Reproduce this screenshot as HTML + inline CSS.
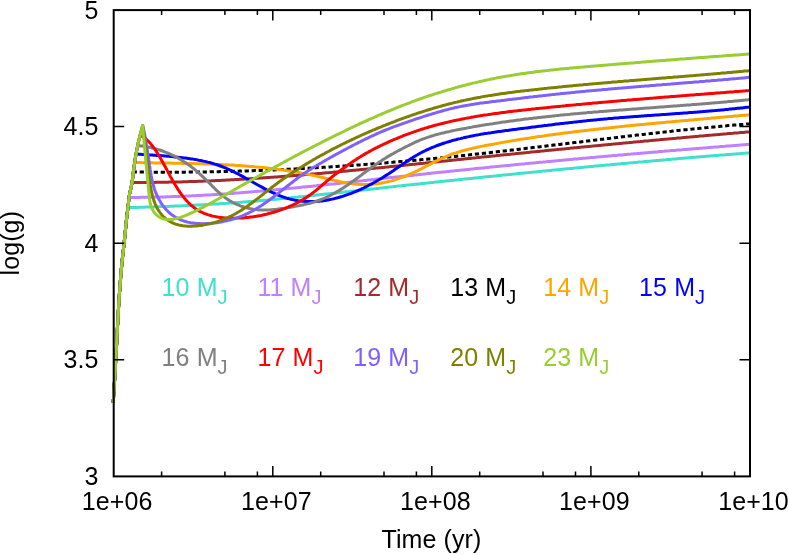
<!DOCTYPE html>
<html><head><meta charset="utf-8"><title>log(g) vs Time</title>
<style>html,body{margin:0;padding:0;background:#fff;}body{width:789px;height:555px;overflow:hidden;font-family:"Liberation Sans",sans-serif;}svg{display:block;will-change:transform;}</style>
</head><body>
<svg width="789" height="555" viewBox="0 0 789 555">
<rect width="789" height="555" fill="#fff"/>
<g fill="none" stroke-width="3" stroke-linejoin="round" stroke-linecap="butt">
<path d="M113.2 402.5 L113.3 400.5 L113.5 398.5 L113.6 396.5 L113.7 394.5 L113.8 392.5 L114.0 390.5 L114.1 388.5 L114.2 386.5 L114.3 384.5 L114.4 382.5 L114.6 380.5 L114.7 378.5 L114.8 376.5 L114.9 374.5 L115.0 372.5 L115.2 370.5 L115.3 368.5 L115.4 366.5 L115.5 364.5 L115.6 362.5 L115.7 360.5 L115.9 358.5 L116.0 356.5 L116.1 354.5 L116.2 352.5 L116.3 350.5 L116.4 348.5 L116.5 346.5 L116.6 344.5 L116.7 342.5 L116.8 340.5 L116.9 338.5 L117.0 336.5 L117.1 334.5 L117.2 332.5 L117.3 330.5 L117.4 328.5 L117.5 326.5 L117.6 324.5 L117.8 322.5 L117.9 320.5 L118.0 318.5 L118.1 316.5 L118.2 314.5 L118.3 312.5 L118.4 310.5 L118.5 308.5 L118.6 306.5 L118.8 304.5 L118.9 302.5 L119.0 300.5 L119.1 298.5 L119.3 296.5 L119.4 294.5 L119.5 292.5 L119.7 290.5 L119.8 288.5 L120.0 286.5 L120.1 284.5 L120.3 282.5 L120.4 280.5 L120.6 278.5 L120.7 276.5 L120.9 274.5 L121.1 272.5 L121.2 270.5 L121.4 268.5 L121.6 266.5 L121.8 264.5 L121.9 262.5 L122.2 260.5 L122.4 258.5 L122.6 256.5 L122.8 254.5 L123.1 252.5 L123.3 250.5 L123.5 248.5 L123.7 246.5 L124.0 244.5 L124.2 242.5 L124.4 240.5 L124.6 238.5 L124.8 236.5 L125.0 234.5 L125.2 232.5 L125.4 230.5 L125.6 228.5 L125.8 226.5 L125.9 224.5 L126.2 222.5 L126.4 220.5 L126.6 218.5 L126.8 216.5 L127.1 214.5 L127.3 212.5 L127.6 210.5 L127.8 208.5 L127.9 207.6 L129.4 207.6 L130.9 207.5 L132.4 207.5 L133.9 207.5 L135.4 207.4 L136.9 207.4 L138.4 207.3 L139.9 207.3 L141.4 207.2 L142.9 207.2 L144.4 207.2 L145.9 207.1 L147.4 207.1 L148.9 207.0 L150.4 207.0 L151.9 206.9 L153.4 206.9 L154.9 206.8 L156.4 206.8 L157.9 206.7 L159.4 206.7 L160.9 206.6 L162.4 206.6 L163.9 206.5 L165.4 206.5 L166.9 206.4 L168.4 206.4 L169.9 206.3 L171.4 206.2 L172.9 206.2 L174.4 206.1 L175.9 206.0 L177.4 206.0 L178.9 205.9 L180.4 205.9 L181.9 205.8 L183.4 205.7 L184.9 205.7 L186.4 205.6 L187.9 205.5 L189.4 205.4 L190.9 205.4 L192.4 205.3 L193.9 205.2 L195.4 205.1 L196.9 205.1 L198.4 205.0 L199.9 204.9 L201.4 204.8 L202.9 204.8 L204.4 204.7 L205.9 204.6 L207.4 204.5 L208.9 204.4 L210.4 204.3 L211.9 204.2 L213.4 204.1 L214.9 204.1 L216.4 204.0 L217.9 203.9 L219.4 203.8 L220.9 203.7 L222.3 203.6 L223.8 203.5 L225.3 203.4 L226.8 203.3 L228.3 203.2 L229.8 203.1 L231.3 203.0 L232.8 202.9 L234.3 202.8 L235.8 202.6 L237.3 202.5 L238.8 202.4 L240.3 202.3 L241.8 202.2 L243.3 202.1 L244.8 202.0 L246.3 201.8 L247.8 201.7 L249.3 201.6 L250.8 201.5 L252.3 201.4 L253.7 201.2 L255.2 201.1 L256.7 201.0 L258.2 200.9 L259.7 200.7 L261.2 200.6 L262.7 200.5 L264.2 200.3 L265.7 200.2 L267.2 200.1 L268.7 199.9 L270.2 199.8 L271.7 199.6 L273.2 199.5 L274.7 199.4 L276.1 199.2 L277.6 199.1 L279.1 198.9 L280.6 198.8 L282.1 198.6 L283.6 198.5 L285.1 198.4 L286.6 198.2 L288.1 198.1 L289.6 197.9 L291.1 197.8 L292.6 197.6 L294.1 197.5 L295.5 197.3 L297.0 197.2 L298.5 197.0 L300.0 196.8 L301.5 196.7 L303.0 196.5 L304.5 196.4 L306.0 196.2 L307.5 196.1 L309.0 195.9 L310.5 195.8 L312.0 195.6 L313.5 195.4 L314.9 195.3 L316.4 195.1 L317.9 195.0 L319.4 194.8 L320.9 194.6 L322.4 194.5 L323.9 194.3 L325.4 194.1 L326.9 194.0 L328.4 193.8 L329.9 193.7 L331.3 193.5 L332.8 193.3 L334.3 193.2 L335.8 193.0 L337.3 192.8 L338.8 192.7 L340.3 192.5 L341.8 192.3 L343.3 192.2 L344.8 192.0 L346.3 191.8 L347.7 191.7 L349.2 191.5 L350.7 191.3 L352.2 191.2 L353.7 191.0 L355.2 190.9 L356.7 190.7 L358.2 190.5 L359.7 190.4 L361.2 190.2 L362.7 190.0 L364.1 189.9 L365.6 189.7 L367.1 189.5 L368.6 189.4 L370.1 189.2 L371.6 189.0 L373.1 188.9 L374.6 188.7 L376.1 188.6 L377.6 188.4 L379.1 188.2 L380.5 188.1 L382.0 187.9 L383.5 187.7 L385.0 187.6 L386.5 187.4 L388.0 187.2 L389.5 187.1 L391.0 186.9 L392.5 186.8 L394.0 186.6 L395.5 186.4 L397.0 186.3 L398.4 186.1 L399.9 185.9 L401.4 185.8 L402.9 185.6 L404.4 185.5 L405.9 185.3 L407.4 185.1 L408.9 185.0 L410.4 184.8 L411.9 184.7 L413.4 184.5 L414.8 184.3 L416.3 184.2 L417.8 184.0 L419.3 183.9 L420.8 183.7 L422.3 183.5 L423.8 183.4 L425.3 183.2 L426.8 183.1 L428.3 182.9 L429.8 182.7 L431.3 182.6 L432.7 182.4 L434.2 182.3 L435.7 182.1 L437.2 181.9 L438.7 181.8 L440.2 181.6 L441.7 181.5 L443.2 181.3 L444.7 181.2 L446.2 181.0 L447.7 180.8 L449.2 180.7 L450.6 180.5 L452.1 180.4 L453.6 180.2 L455.1 180.1 L456.6 179.9 L458.1 179.8 L459.6 179.6 L461.1 179.4 L462.6 179.3 L464.1 179.1 L465.6 179.0 L467.1 178.8 L468.5 178.7 L470.0 178.5 L471.5 178.4 L473.0 178.2 L474.5 178.0 L476.0 177.9 L477.5 177.7 L479.0 177.6 L480.5 177.4 L482.0 177.3 L483.5 177.1 L485.0 177.0 L486.5 176.8 L487.9 176.7 L489.4 176.5 L490.9 176.4 L492.4 176.2 L493.9 176.1 L495.4 175.9 L496.9 175.7 L498.4 175.6 L499.9 175.4 L501.4 175.3 L502.9 175.1 L504.4 175.0 L505.9 174.8 L507.3 174.7 L508.8 174.5 L510.3 174.4 L511.8 174.2 L513.3 174.1 L514.8 173.9 L516.3 173.8 L517.8 173.6 L519.3 173.5 L520.8 173.3 L522.3 173.2 L523.8 173.0 L525.3 172.9 L526.7 172.7 L528.2 172.6 L529.7 172.4 L531.2 172.3 L532.7 172.2 L534.2 172.0 L535.7 171.9 L537.2 171.7 L538.7 171.6 L540.2 171.4 L541.7 171.3 L543.2 171.1 L544.7 171.0 L546.2 170.8 L547.6 170.7 L549.1 170.5 L550.6 170.4 L552.1 170.2 L553.6 170.1 L555.1 170.0 L556.6 169.8 L558.1 169.7 L559.6 169.5 L561.1 169.4 L562.6 169.2 L564.1 169.1 L565.6 168.9 L567.1 168.8 L568.5 168.7 L570.0 168.5 L571.5 168.4 L573.0 168.2 L574.5 168.1 L576.0 167.9 L577.5 167.8 L579.0 167.7 L580.5 167.5 L582.0 167.4 L583.5 167.2 L585.0 167.1 L586.5 167.0 L588.0 166.8 L589.4 166.7 L590.9 166.5 L592.4 166.4 L593.9 166.2 L595.4 166.1 L596.9 166.0 L598.4 165.8 L599.9 165.7 L601.4 165.6 L602.9 165.4 L604.4 165.3 L605.9 165.1 L607.4 165.0 L608.9 164.9 L610.4 164.7 L611.9 164.6 L613.3 164.4 L614.8 164.3 L616.3 164.2 L617.8 164.0 L619.3 163.9 L620.8 163.8 L622.3 163.6 L623.8 163.5 L625.3 163.4 L626.8 163.2 L628.3 163.1 L629.8 162.9 L631.3 162.8 L632.8 162.7 L634.3 162.5 L635.8 162.4 L637.2 162.3 L638.7 162.1 L640.2 162.0 L641.7 161.9 L643.2 161.7 L644.7 161.6 L646.2 161.5 L647.7 161.3 L649.2 161.2 L650.7 161.1 L652.2 160.9 L653.7 160.8 L655.2 160.7 L656.7 160.5 L658.2 160.4 L659.7 160.3 L661.2 160.2 L662.6 160.0 L664.1 159.9 L665.6 159.8 L667.1 159.6 L668.6 159.5 L670.1 159.4 L671.6 159.2 L673.1 159.1 L674.6 159.0 L676.1 158.9 L677.6 158.7 L679.1 158.6 L680.6 158.5 L682.1 158.3 L683.6 158.2 L685.1 158.1 L686.6 158.0 L688.1 157.8 L689.5 157.7 L691.0 157.6 L692.5 157.5 L694.0 157.3 L695.5 157.2 L697.0 157.1 L698.5 157.0 L700.0 156.8 L701.5 156.7 L703.0 156.6 L704.5 156.5 L706.0 156.3 L707.5 156.2 L709.0 156.1 L710.5 156.0 L712.0 155.8 L713.5 155.7 L715.0 155.6 L716.5 155.5 L717.9 155.4 L719.4 155.2 L720.9 155.1 L722.4 155.0 L723.9 154.9 L725.4 154.8 L726.9 154.6 L728.4 154.5 L729.9 154.4 L731.4 154.3 L732.9 154.2 L734.4 154.0 L735.9 153.9 L737.4 153.8 L738.9 153.7 L740.4 153.6 L741.9 153.4 L743.4 153.3 L744.9 153.2 L746.4 153.1 L747.9 153.0 L749.4 152.9 L750.0 152.8" stroke="#40e0d0"/>
<path d="M113.2 402.5 L113.3 400.5 L113.5 398.5 L113.6 396.5 L113.7 394.5 L113.8 392.5 L114.0 390.5 L114.1 388.5 L114.2 386.5 L114.3 384.5 L114.4 382.5 L114.6 380.5 L114.7 378.5 L114.8 376.5 L114.9 374.5 L115.0 372.5 L115.2 370.5 L115.3 368.5 L115.4 366.5 L115.5 364.5 L115.6 362.5 L115.7 360.5 L115.9 358.5 L116.0 356.5 L116.1 354.5 L116.2 352.5 L116.3 350.5 L116.4 348.5 L116.5 346.5 L116.6 344.5 L116.7 342.5 L116.8 340.5 L116.9 338.5 L117.0 336.5 L117.1 334.5 L117.2 332.5 L117.3 330.5 L117.4 328.5 L117.5 326.5 L117.6 324.5 L117.8 322.5 L117.9 320.5 L118.0 318.5 L118.1 316.5 L118.2 314.5 L118.3 312.5 L118.4 310.5 L118.5 308.5 L118.6 306.5 L118.8 304.5 L118.9 302.5 L119.0 300.5 L119.1 298.5 L119.3 296.5 L119.4 294.5 L119.5 292.5 L119.7 290.5 L119.8 288.5 L120.0 286.5 L120.1 284.5 L120.3 282.5 L120.4 280.5 L120.6 278.5 L120.7 276.5 L120.9 274.5 L121.1 272.5 L121.2 270.5 L121.4 268.5 L121.6 266.5 L121.8 264.5 L121.9 262.5 L122.2 260.5 L122.4 258.5 L122.6 256.5 L122.8 254.5 L123.1 252.5 L123.3 250.5 L123.5 248.5 L123.7 246.5 L124.0 244.5 L124.2 242.5 L124.4 240.5 L124.6 238.5 L124.8 236.5 L125.0 234.5 L125.2 232.5 L125.4 230.5 L125.6 228.5 L125.8 226.5 L125.9 224.5 L126.2 222.5 L126.4 220.5 L126.6 218.5 L126.8 216.5 L127.1 214.5 L127.3 212.5 L127.6 210.5 L127.8 208.5 L128.0 206.5 L128.3 204.5 L128.5 202.5 L128.7 200.5 L129.0 198.5 L129.1 197.4 L130.6 197.4 L132.1 197.4 L133.6 197.4 L135.1 197.4 L136.6 197.4 L138.1 197.4 L139.6 197.4 L141.1 197.3 L142.6 197.3 L144.1 197.3 L145.6 197.3 L147.1 197.3 L148.6 197.3 L150.1 197.2 L151.6 197.2 L153.1 197.2 L154.6 197.1 L156.1 197.1 L157.6 197.1 L159.1 197.0 L160.6 197.0 L162.1 197.0 L163.6 196.9 L165.1 196.9 L166.6 196.8 L168.1 196.8 L169.6 196.7 L171.1 196.7 L172.6 196.6 L174.1 196.6 L175.6 196.5 L177.1 196.5 L178.6 196.4 L180.1 196.4 L181.6 196.3 L183.1 196.2 L184.6 196.2 L186.1 196.1 L187.6 196.0 L189.1 196.0 L190.6 195.9 L192.1 195.8 L193.6 195.8 L195.1 195.7 L196.6 195.6 L198.1 195.5 L199.6 195.5 L201.1 195.4 L202.6 195.3 L204.1 195.2 L205.6 195.1 L207.1 195.0 L208.6 194.9 L210.1 194.9 L211.6 194.8 L213.1 194.7 L214.6 194.6 L216.1 194.5 L217.6 194.4 L219.1 194.3 L220.6 194.2 L222.1 194.1 L223.6 194.0 L225.1 193.9 L226.6 193.8 L228.0 193.7 L229.5 193.6 L231.0 193.5 L232.5 193.4 L234.0 193.3 L235.5 193.1 L237.0 193.0 L238.5 192.9 L240.0 192.8 L241.5 192.7 L243.0 192.6 L244.5 192.5 L246.0 192.3 L247.5 192.2 L249.0 192.1 L250.5 192.0 L252.0 191.8 L253.5 191.7 L255.0 191.6 L256.4 191.5 L257.9 191.3 L259.4 191.2 L260.9 191.1 L262.4 191.0 L263.9 190.8 L265.4 190.7 L266.9 190.6 L268.4 190.4 L269.9 190.3 L271.4 190.2 L272.9 190.0 L274.4 189.9 L275.9 189.8 L277.4 189.6 L278.8 189.5 L280.3 189.3 L281.8 189.2 L283.3 189.1 L284.8 188.9 L286.3 188.8 L287.8 188.6 L289.3 188.5 L290.8 188.3 L292.3 188.2 L293.8 188.0 L295.3 187.9 L296.8 187.7 L298.3 187.6 L299.7 187.4 L301.2 187.3 L302.7 187.1 L304.2 187.0 L305.7 186.8 L307.2 186.7 L308.7 186.5 L310.2 186.4 L311.7 186.2 L313.2 186.1 L314.7 185.9 L316.2 185.8 L317.6 185.6 L319.1 185.5 L320.6 185.3 L322.1 185.1 L323.6 185.0 L325.1 184.8 L326.6 184.7 L328.1 184.5 L329.6 184.3 L331.1 184.2 L332.6 184.0 L334.1 183.9 L335.5 183.7 L337.0 183.5 L338.5 183.4 L340.0 183.2 L341.5 183.1 L343.0 182.9 L344.5 182.7 L346.0 182.6 L347.5 182.4 L349.0 182.2 L350.5 182.1 L351.9 181.9 L353.4 181.8 L354.9 181.6 L356.4 181.4 L357.9 181.3 L359.4 181.1 L360.9 180.9 L362.4 180.8 L363.9 180.6 L365.4 180.4 L366.9 180.3 L368.4 180.1 L369.8 179.9 L371.3 179.8 L372.8 179.6 L374.3 179.5 L375.8 179.3 L377.3 179.1 L378.8 179.0 L380.3 178.8 L381.8 178.6 L383.3 178.5 L384.8 178.3 L386.2 178.1 L387.7 178.0 L389.2 177.8 L390.7 177.6 L392.2 177.5 L393.7 177.3 L395.2 177.1 L396.7 177.0 L398.2 176.8 L399.7 176.7 L401.2 176.5 L402.6 176.3 L404.1 176.2 L405.6 176.0 L407.1 175.8 L408.6 175.7 L410.1 175.5 L411.6 175.4 L413.1 175.2 L414.6 175.0 L416.1 174.9 L417.6 174.7 L419.1 174.6 L420.5 174.4 L422.0 174.2 L423.5 174.1 L425.0 173.9 L426.5 173.8 L428.0 173.6 L429.5 173.4 L431.0 173.3 L432.5 173.1 L434.0 173.0 L435.5 172.8 L437.0 172.6 L438.4 172.5 L439.9 172.3 L441.4 172.2 L442.9 172.0 L444.4 171.9 L445.9 171.7 L447.4 171.6 L448.9 171.4 L450.4 171.2 L451.9 171.1 L453.4 170.9 L454.9 170.8 L456.3 170.6 L457.8 170.5 L459.3 170.3 L460.8 170.2 L462.3 170.0 L463.8 169.9 L465.3 169.7 L466.8 169.5 L468.3 169.4 L469.8 169.2 L471.3 169.1 L472.8 168.9 L474.3 168.8 L475.7 168.6 L477.2 168.5 L478.7 168.3 L480.2 168.2 L481.7 168.0 L483.2 167.9 L484.7 167.7 L486.2 167.6 L487.7 167.4 L489.2 167.3 L490.7 167.1 L492.2 167.0 L493.7 166.8 L495.1 166.7 L496.6 166.5 L498.1 166.4 L499.6 166.2 L501.1 166.1 L502.6 166.0 L504.1 165.8 L505.6 165.7 L507.1 165.5 L508.6 165.4 L510.1 165.2 L511.6 165.1 L513.1 164.9 L514.6 164.8 L516.0 164.6 L517.5 164.5 L519.0 164.3 L520.5 164.2 L522.0 164.1 L523.5 163.9 L525.0 163.8 L526.5 163.6 L528.0 163.5 L529.5 163.3 L531.0 163.2 L532.5 163.1 L534.0 162.9 L535.5 162.8 L536.9 162.6 L538.4 162.5 L539.9 162.3 L541.4 162.2 L542.9 162.1 L544.4 161.9 L545.9 161.8 L547.4 161.6 L548.9 161.5 L550.4 161.4 L551.9 161.2 L553.4 161.1 L554.9 160.9 L556.4 160.8 L557.9 160.7 L559.3 160.5 L560.8 160.4 L562.3 160.2 L563.8 160.1 L565.3 160.0 L566.8 159.8 L568.3 159.7 L569.8 159.6 L571.3 159.4 L572.8 159.3 L574.3 159.1 L575.8 159.0 L577.3 158.9 L578.8 158.7 L580.3 158.6 L581.7 158.5 L583.2 158.3 L584.7 158.2 L586.2 158.1 L587.7 157.9 L589.2 157.8 L590.7 157.6 L592.2 157.5 L593.7 157.4 L595.2 157.2 L596.7 157.1 L598.2 157.0 L599.7 156.8 L601.2 156.7 L602.7 156.6 L604.2 156.4 L605.6 156.3 L607.1 156.2 L608.6 156.0 L610.1 155.9 L611.6 155.8 L613.1 155.6 L614.6 155.5 L616.1 155.4 L617.6 155.3 L619.1 155.1 L620.6 155.0 L622.1 154.9 L623.6 154.7 L625.1 154.6 L626.6 154.5 L628.1 154.3 L629.6 154.2 L631.1 154.1 L632.5 153.9 L634.0 153.8 L635.5 153.7 L637.0 153.6 L638.5 153.4 L640.0 153.3 L641.5 153.2 L643.0 153.0 L644.5 152.9 L646.0 152.8 L647.5 152.7 L649.0 152.5 L650.5 152.4 L652.0 152.3 L653.5 152.2 L655.0 152.0 L656.5 151.9 L658.0 151.8 L659.4 151.6 L660.9 151.5 L662.4 151.4 L663.9 151.3 L665.4 151.1 L666.9 151.0 L668.4 150.9 L669.9 150.8 L671.4 150.6 L672.9 150.5 L674.4 150.4 L675.9 150.3 L677.4 150.1 L678.9 150.0 L680.4 149.9 L681.9 149.8 L683.4 149.6 L684.9 149.5 L686.4 149.4 L687.8 149.3 L689.3 149.2 L690.8 149.0 L692.3 148.9 L693.8 148.8 L695.3 148.7 L696.8 148.5 L698.3 148.4 L699.8 148.3 L701.3 148.2 L702.8 148.1 L704.3 147.9 L705.8 147.8 L707.3 147.7 L708.8 147.6 L710.3 147.5 L711.8 147.3 L713.3 147.2 L714.8 147.1 L716.3 147.0 L717.8 146.9 L719.2 146.7 L720.7 146.6 L722.2 146.5 L723.7 146.4 L725.2 146.3 L726.7 146.1 L728.2 146.0 L729.7 145.9 L731.2 145.8 L732.7 145.7 L734.2 145.5 L735.7 145.4 L737.2 145.3 L738.7 145.2 L740.2 145.1 L741.7 145.0 L743.2 144.8 L744.7 144.7 L746.2 144.6 L747.7 144.5 L749.2 144.4 L750.0 144.3" stroke="#c080ff"/>
<path d="M113.2 402.5 L113.3 400.5 L113.5 398.5 L113.6 396.5 L113.7 394.5 L113.8 392.5 L114.0 390.5 L114.1 388.5 L114.2 386.5 L114.3 384.5 L114.4 382.5 L114.6 380.5 L114.7 378.5 L114.8 376.5 L114.9 374.5 L115.0 372.5 L115.2 370.5 L115.3 368.5 L115.4 366.5 L115.5 364.5 L115.6 362.5 L115.7 360.5 L115.9 358.5 L116.0 356.5 L116.1 354.5 L116.2 352.5 L116.3 350.5 L116.4 348.5 L116.5 346.5 L116.6 344.5 L116.7 342.5 L116.8 340.5 L116.9 338.5 L117.0 336.5 L117.1 334.5 L117.2 332.5 L117.3 330.5 L117.4 328.5 L117.5 326.5 L117.6 324.5 L117.8 322.5 L117.9 320.5 L118.0 318.5 L118.1 316.5 L118.2 314.5 L118.3 312.5 L118.4 310.5 L118.5 308.5 L118.6 306.5 L118.8 304.5 L118.9 302.5 L119.0 300.5 L119.1 298.5 L119.3 296.5 L119.4 294.5 L119.5 292.5 L119.7 290.5 L119.8 288.5 L120.0 286.5 L120.1 284.5 L120.3 282.5 L120.4 280.5 L120.6 278.5 L120.7 276.5 L120.9 274.5 L121.1 272.5 L121.2 270.5 L121.4 268.5 L121.6 266.5 L121.8 264.5 L121.9 262.5 L122.2 260.5 L122.4 258.5 L122.6 256.5 L122.8 254.5 L123.1 252.5 L123.3 250.5 L123.5 248.5 L123.7 246.5 L124.0 244.5 L124.2 242.5 L124.4 240.5 L124.6 238.5 L124.8 236.5 L125.0 234.5 L125.2 232.5 L125.4 230.5 L125.6 228.5 L125.8 226.5 L125.9 224.5 L126.2 222.5 L126.4 220.5 L126.6 218.5 L126.8 216.5 L127.1 214.5 L127.3 212.5 L127.6 210.5 L127.8 208.5 L128.0 206.5 L128.3 204.5 L128.5 202.5 L128.7 200.5 L129.0 198.5 L129.2 196.5 L129.5 194.5 L129.9 192.5 L130.4 190.5 L130.8 188.5 L131.3 186.5 L131.7 184.5 L132.0 182.5 L132.0 182.4 L133.5 182.4 L135.1 182.4 L136.6 182.4 L138.1 182.4 L139.6 182.4 L141.1 182.4 L142.6 182.4 L144.1 182.4 L145.6 182.4 L147.1 182.4 L148.6 182.4 L150.1 182.4 L151.6 182.4 L153.1 182.4 L154.6 182.4 L156.1 182.3 L157.6 182.3 L159.1 182.3 L160.6 182.3 L162.1 182.3 L163.6 182.2 L165.1 182.2 L166.6 182.2 L168.1 182.2 L169.6 182.1 L171.1 182.1 L172.6 182.1 L174.1 182.0 L175.6 182.0 L177.1 182.0 L178.6 181.9 L180.1 181.9 L181.6 181.9 L183.1 181.8 L184.6 181.8 L186.1 181.7 L187.6 181.7 L189.1 181.6 L190.6 181.6 L192.1 181.5 L193.6 181.5 L195.1 181.4 L196.6 181.4 L198.1 181.3 L199.6 181.3 L201.1 181.2 L202.6 181.2 L204.1 181.1 L205.6 181.0 L207.1 181.0 L208.6 180.9 L210.1 180.9 L211.6 180.8 L213.1 180.7 L214.6 180.7 L216.1 180.6 L217.6 180.5 L219.1 180.5 L220.6 180.4 L222.1 180.3 L223.6 180.2 L225.1 180.2 L226.6 180.1 L228.0 180.0 L229.5 179.9 L231.0 179.8 L232.5 179.8 L234.0 179.7 L235.5 179.6 L237.0 179.5 L238.5 179.4 L240.0 179.3 L241.5 179.3 L243.0 179.2 L244.5 179.1 L246.0 179.0 L247.5 178.9 L249.0 178.8 L250.5 178.7 L252.0 178.6 L253.5 178.5 L255.0 178.4 L256.5 178.3 L258.0 178.2 L259.5 178.1 L261.0 178.0 L262.5 177.9 L264.0 177.8 L265.5 177.7 L267.0 177.6 L268.5 177.5 L269.9 177.4 L271.4 177.3 L272.9 177.2 L274.4 177.1 L275.9 177.0 L277.4 176.9 L278.9 176.8 L280.4 176.7 L281.9 176.5 L283.4 176.4 L284.9 176.3 L286.4 176.2 L287.9 176.1 L289.4 176.0 L290.9 175.8 L292.4 175.7 L293.9 175.6 L295.4 175.5 L296.9 175.4 L298.4 175.3 L299.8 175.1 L301.3 175.0 L302.8 174.9 L304.3 174.8 L305.8 174.6 L307.3 174.5 L308.8 174.4 L310.3 174.3 L311.8 174.1 L313.3 174.0 L314.8 173.9 L316.3 173.7 L317.8 173.6 L319.3 173.5 L320.8 173.4 L322.3 173.2 L323.8 173.1 L325.2 173.0 L326.7 172.8 L328.2 172.7 L329.7 172.6 L331.2 172.4 L332.7 172.3 L334.2 172.1 L335.7 172.0 L337.2 171.9 L338.7 171.7 L340.2 171.6 L341.7 171.5 L343.2 171.3 L344.7 171.2 L346.2 171.0 L347.6 170.9 L349.1 170.7 L350.6 170.6 L352.1 170.5 L353.6 170.3 L355.1 170.2 L356.6 170.0 L358.1 169.9 L359.6 169.7 L361.1 169.6 L362.6 169.5 L364.1 169.3 L365.6 169.2 L367.1 169.0 L368.6 168.9 L370.0 168.7 L371.5 168.6 L373.0 168.4 L374.5 168.3 L376.0 168.1 L377.5 168.0 L379.0 167.8 L380.5 167.7 L382.0 167.5 L383.5 167.4 L385.0 167.2 L386.5 167.1 L388.0 166.9 L389.4 166.8 L390.9 166.6 L392.4 166.5 L393.9 166.3 L395.4 166.2 L396.9 166.0 L398.4 165.9 L399.9 165.7 L401.4 165.5 L402.9 165.4 L404.4 165.2 L405.9 165.1 L407.4 164.9 L408.8 164.8 L410.3 164.6 L411.8 164.5 L413.3 164.3 L414.8 164.2 L416.3 164.0 L417.8 163.8 L419.3 163.7 L420.8 163.5 L422.3 163.4 L423.8 163.2 L425.3 163.1 L426.8 162.9 L428.2 162.7 L429.7 162.6 L431.2 162.4 L432.7 162.3 L434.2 162.1 L435.7 162.0 L437.2 161.8 L438.7 161.7 L440.2 161.5 L441.7 161.3 L443.2 161.2 L444.7 161.0 L446.1 160.9 L447.6 160.7 L449.1 160.6 L450.6 160.4 L452.1 160.2 L453.6 160.1 L455.1 159.9 L456.6 159.8 L458.1 159.6 L459.6 159.5 L461.1 159.3 L462.6 159.2 L464.1 159.0 L465.5 158.8 L467.0 158.7 L468.5 158.5 L470.0 158.4 L471.5 158.2 L473.0 158.1 L474.5 157.9 L476.0 157.8 L477.5 157.6 L479.0 157.5 L480.5 157.3 L482.0 157.1 L483.5 157.0 L484.9 156.8 L486.4 156.7 L487.9 156.5 L489.4 156.4 L490.9 156.2 L492.4 156.1 L493.9 155.9 L495.4 155.8 L496.9 155.6 L498.4 155.5 L499.9 155.3 L501.4 155.1 L502.9 155.0 L504.3 154.8 L505.8 154.7 L507.3 154.5 L508.8 154.4 L510.3 154.2 L511.8 154.1 L513.3 153.9 L514.8 153.8 L516.3 153.6 L517.8 153.5 L519.3 153.3 L520.8 153.2 L522.3 153.0 L523.7 152.9 L525.2 152.7 L526.7 152.6 L528.2 152.4 L529.7 152.3 L531.2 152.1 L532.7 152.0 L534.2 151.8 L535.7 151.7 L537.2 151.5 L538.7 151.4 L540.2 151.2 L541.7 151.1 L543.1 150.9 L544.6 150.8 L546.1 150.6 L547.6 150.5 L549.1 150.3 L550.6 150.2 L552.1 150.0 L553.6 149.9 L555.1 149.7 L556.6 149.6 L558.1 149.4 L559.6 149.3 L561.1 149.2 L562.5 149.0 L564.0 148.9 L565.5 148.7 L567.0 148.6 L568.5 148.4 L570.0 148.3 L571.5 148.1 L573.0 148.0 L574.5 147.8 L576.0 147.7 L577.5 147.5 L579.0 147.4 L580.5 147.2 L582.0 147.1 L583.4 147.0 L584.9 146.8 L586.4 146.7 L587.9 146.5 L589.4 146.4 L590.9 146.2 L592.4 146.1 L593.9 145.9 L595.4 145.8 L596.9 145.7 L598.4 145.5 L599.9 145.4 L601.4 145.2 L602.9 145.1 L604.3 144.9 L605.8 144.8 L607.3 144.7 L608.8 144.5 L610.3 144.4 L611.8 144.2 L613.3 144.1 L614.8 143.9 L616.3 143.8 L617.8 143.7 L619.3 143.5 L620.8 143.4 L622.3 143.2 L623.8 143.1 L625.2 143.0 L626.7 142.8 L628.2 142.7 L629.7 142.5 L631.2 142.4 L632.7 142.3 L634.2 142.1 L635.7 142.0 L637.2 141.8 L638.7 141.7 L640.2 141.6 L641.7 141.4 L643.2 141.3 L644.7 141.1 L646.2 141.0 L647.6 140.9 L649.1 140.7 L650.6 140.6 L652.1 140.4 L653.6 140.3 L655.1 140.2 L656.6 140.0 L658.1 139.9 L659.6 139.8 L661.1 139.6 L662.6 139.5 L664.1 139.3 L665.6 139.2 L667.1 139.1 L668.6 138.9 L670.1 138.8 L671.5 138.7 L673.0 138.5 L674.5 138.4 L676.0 138.3 L677.5 138.1 L679.0 138.0 L680.5 137.9 L682.0 137.7 L683.5 137.6 L685.0 137.5 L686.5 137.3 L688.0 137.2 L689.5 137.1 L691.0 136.9 L692.5 136.8 L694.0 136.7 L695.5 136.5 L696.9 136.4 L698.4 136.3 L699.9 136.1 L701.4 136.0 L702.9 135.9 L704.4 135.7 L705.9 135.6 L707.4 135.5 L708.9 135.3 L710.4 135.2 L711.9 135.1 L713.4 134.9 L714.9 134.8 L716.4 134.7 L717.9 134.6 L719.4 134.4 L720.9 134.3 L722.3 134.2 L723.8 134.0 L725.3 133.9 L726.8 133.8 L728.3 133.6 L729.8 133.5 L731.3 133.4 L732.8 133.3 L734.3 133.1 L735.8 133.0 L737.3 132.9 L738.8 132.8 L740.3 132.6 L741.8 132.5 L743.3 132.4 L744.8 132.2 L746.3 132.1 L747.8 132.0 L749.3 131.9 L750.0 131.8" stroke="#a52a2a"/>
<path d="M113.2 402.5 L113.3 400.5 L113.5 398.5 L113.6 396.5 L113.7 394.5 L113.8 392.5 L114.0 390.5 L114.1 388.5 L114.2 386.5 L114.3 384.5 L114.4 382.5 L114.6 380.5 L114.7 378.5 L114.8 376.5 L114.9 374.5 L115.0 372.5 L115.2 370.5 L115.3 368.5 L115.4 366.5 L115.5 364.5 L115.6 362.5 L115.7 360.5 L115.9 358.5 L116.0 356.5 L116.1 354.5 L116.2 352.5 L116.3 350.5 L116.4 348.5 L116.5 346.5 L116.6 344.5 L116.7 342.5 L116.8 340.5 L116.9 338.5 L117.0 336.5 L117.1 334.5 L117.2 332.5 L117.3 330.5 L117.4 328.5 L117.5 326.5 L117.6 324.5 L117.8 322.5 L117.9 320.5 L118.0 318.5 L118.1 316.5 L118.2 314.5 L118.3 312.5 L118.4 310.5 L118.5 308.5 L118.6 306.5 L118.8 304.5 L118.9 302.5 L119.0 300.5 L119.1 298.5 L119.3 296.5 L119.4 294.5 L119.5 292.5 L119.7 290.5 L119.8 288.5 L120.0 286.5 L120.1 284.5 L120.3 282.5 L120.4 280.5 L120.6 278.5 L120.7 276.5 L120.9 274.5 L121.1 272.5 L121.2 270.5 L121.4 268.5 L121.6 266.5 L121.8 264.5 L121.9 262.5 L122.2 260.5 L122.4 258.5 L122.6 256.5 L122.8 254.5 L123.1 252.5 L123.3 250.5 L123.5 248.5 L123.7 246.5 L124.0 244.5 L124.2 242.5 L124.4 240.5 L124.6 238.5 L124.8 236.5 L125.0 234.5 L125.2 232.5 L125.4 230.5 L125.6 228.5 L125.8 226.5 L125.9 224.5 L126.2 222.5 L126.4 220.5 L126.6 218.5 L126.8 216.5 L127.1 214.5 L127.3 212.5 L127.6 210.5 L127.8 208.5 L128.0 206.5 L128.3 204.5 L128.5 202.5 L128.7 200.5 L129.0 198.5 L129.2 196.5 L129.5 194.5 L129.9 192.5 L130.4 190.5 L130.8 188.5 L131.3 186.5 L131.7 184.5 L132.0 182.5 L132.3 180.5 L132.6 178.5 L132.8 176.5 L133.0 174.5 L133.3 172.5 L133.3 172.0 L134.8 172.0 L136.3 172.0 L137.8 172.1 L139.3 172.1 L140.8 172.1 L142.3 172.1 L143.8 172.1 L145.3 172.1 L146.8 172.2 L148.3 172.2 L149.8 172.2 L151.3 172.2 L152.9 172.2 L154.4 172.2 L155.9 172.2 L157.4 172.2 L158.9 172.2 L160.4 172.2 L161.9 172.2 L163.4 172.2 L164.9 172.2 L166.4 172.2 L167.9 172.2 L169.4 172.2 L170.9 172.2 L172.4 172.2 L173.9 172.2 L175.4 172.2 L176.9 172.2 L178.4 172.2 L179.9 172.2 L181.4 172.2 L182.9 172.2 L184.4 172.2 L185.9 172.1 L187.4 172.1 L188.9 172.1 L190.4 172.1 L191.9 172.1 L193.4 172.1 L194.9 172.1 L196.4 172.0 L197.9 172.0 L199.4 172.0 L200.9 172.0 L202.4 172.0 L203.9 171.9 L205.4 171.9 L206.9 171.9 L208.4 171.9 L209.9 171.8 L211.4 171.8 L212.9 171.8 L214.4 171.7 L215.9 171.7 L217.4 171.7 L218.9 171.7 L220.4 171.6 L221.9 171.6 L223.4 171.6 L224.9 171.5 L226.4 171.5 L227.9 171.4 L229.4 171.4 L230.9 171.4 L232.4 171.3 L233.9 171.3 L235.4 171.2 L236.9 171.2 L238.4 171.2 L239.9 171.1 L241.4 171.1 L242.9 171.0 L244.4 171.0 L245.9 170.9 L247.4 170.9 L248.9 170.8 L250.3 170.8 L251.8 170.7 L253.3 170.7 L254.8 170.6 L256.3 170.6 L257.8 170.5 L259.3 170.5 L260.8 170.4 L262.3 170.3 L263.8 170.3 L265.3 170.2 L266.8 170.2 L268.3 170.1 L269.8 170.0 L271.3 170.0 L272.8 169.9 L274.3 169.9 L275.8 169.8 L277.3 169.7 L278.8 169.7 L280.3 169.6 L281.8 169.5 L283.3 169.5 L284.8 169.4 L286.3 169.3 L287.8 169.2 L289.3 169.2 L290.8 169.1 L292.3 169.0 L293.8 168.9 L295.3 168.9 L296.8 168.8 L298.3 168.7 L299.8 168.6 L301.3 168.6 L302.8 168.5 L304.3 168.4 L305.8 168.3 L307.3 168.2 L308.8 168.2 L310.3 168.1 L311.8 168.0 L313.3 167.9 L314.8 167.8 L316.3 167.7 L317.8 167.6 L319.3 167.6 L320.8 167.5 L322.3 167.4 L323.7 167.3 L325.2 167.2 L326.7 167.1 L328.2 167.0 L329.7 166.9 L331.2 166.8 L332.7 166.7 L334.2 166.6 L335.7 166.5 L337.2 166.4 L338.7 166.3 L340.2 166.2 L341.7 166.1 L343.2 166.0 L344.7 165.9 L346.2 165.8 L347.7 165.7 L349.2 165.6 L350.7 165.5 L352.2 165.4 L353.7 165.3 L355.2 165.2 L356.7 165.1 L358.2 165.0 L359.7 164.9 L361.2 164.8 L362.7 164.6 L364.1 164.5 L365.6 164.4 L367.1 164.3 L368.6 164.2 L370.1 164.1 L371.6 164.0 L373.1 163.8 L374.6 163.7 L376.1 163.6 L377.6 163.5 L379.1 163.4 L380.6 163.3 L382.1 163.1 L383.6 163.0 L385.1 162.9 L386.6 162.8 L388.1 162.6 L389.6 162.5 L391.1 162.4 L392.6 162.3 L394.0 162.1 L395.5 162.0 L397.0 161.9 L398.5 161.8 L400.0 161.6 L401.5 161.5 L403.0 161.4 L404.5 161.2 L406.0 161.1 L407.5 161.0 L409.0 160.8 L410.5 160.7 L412.0 160.6 L413.5 160.4 L415.0 160.3 L416.5 160.2 L417.9 160.0 L419.4 159.9 L420.9 159.7 L422.4 159.6 L423.9 159.5 L425.4 159.3 L426.9 159.2 L428.4 159.0 L429.9 158.9 L431.4 158.8 L432.9 158.6 L434.4 158.5 L435.9 158.3 L437.4 158.2 L438.9 158.0 L440.3 157.9 L441.8 157.7 L443.3 157.6 L444.8 157.4 L446.3 157.3 L447.8 157.1 L449.3 157.0 L450.8 156.8 L452.3 156.7 L453.8 156.5 L455.3 156.4 L456.8 156.2 L458.3 156.1 L459.7 155.9 L461.2 155.7 L462.7 155.6 L464.2 155.4 L465.7 155.3 L467.2 155.1 L468.7 155.0 L470.2 154.8 L471.7 154.6 L473.2 154.5 L474.7 154.3 L476.1 154.1 L477.6 154.0 L479.1 153.8 L480.6 153.6 L482.1 153.5 L483.6 153.3 L485.1 153.2 L486.6 153.0 L488.1 152.8 L489.6 152.7 L491.1 152.5 L492.5 152.3 L494.0 152.1 L495.5 152.0 L497.0 151.8 L498.5 151.6 L500.0 151.5 L501.5 151.3 L503.0 151.1 L504.5 151.0 L506.0 150.8 L507.4 150.6 L508.9 150.4 L510.4 150.3 L511.9 150.1 L513.4 149.9 L514.9 149.7 L516.4 149.6 L517.9 149.4 L519.4 149.2 L520.9 149.0 L522.3 148.9 L523.8 148.7 L525.3 148.5 L526.8 148.3 L528.3 148.2 L529.8 148.0 L531.3 147.8 L532.8 147.6 L534.3 147.4 L535.8 147.3 L537.2 147.1 L538.7 146.9 L540.2 146.7 L541.7 146.5 L543.2 146.4 L544.7 146.2 L546.2 146.0 L547.7 145.8 L549.2 145.6 L550.6 145.5 L552.1 145.3 L553.6 145.1 L555.1 144.9 L556.6 144.7 L558.1 144.6 L559.6 144.4 L561.1 144.2 L562.6 144.0 L564.1 143.8 L565.5 143.7 L567.0 143.5 L568.5 143.3 L570.0 143.1 L571.5 142.9 L573.0 142.8 L574.5 142.6 L576.0 142.4 L577.5 142.2 L578.9 142.0 L580.4 141.9 L581.9 141.7 L583.4 141.5 L584.9 141.3 L586.4 141.1 L587.9 141.0 L589.4 140.8 L590.9 140.6 L592.3 140.4 L593.8 140.2 L595.3 140.1 L596.8 139.9 L598.3 139.7 L599.8 139.5 L601.3 139.3 L602.8 139.2 L604.3 139.0 L605.8 138.8 L607.2 138.6 L608.7 138.4 L610.2 138.3 L611.7 138.1 L613.2 137.9 L614.7 137.7 L616.2 137.6 L617.7 137.4 L619.2 137.2 L620.7 137.0 L622.1 136.8 L623.6 136.7 L625.1 136.5 L626.6 136.3 L628.1 136.1 L629.6 136.0 L631.1 135.8 L632.6 135.6 L634.1 135.5 L635.6 135.3 L637.0 135.1 L638.5 134.9 L640.0 134.8 L641.5 134.6 L643.0 134.4 L644.5 134.3 L646.0 134.1 L647.5 133.9 L649.0 133.7 L650.5 133.6 L651.9 133.4 L653.4 133.2 L654.9 133.1 L656.4 132.9 L657.9 132.7 L659.4 132.6 L660.9 132.4 L662.4 132.2 L663.9 132.1 L665.4 131.9 L666.9 131.8 L668.3 131.6 L669.8 131.4 L671.3 131.3 L672.8 131.1 L674.3 130.9 L675.8 130.8 L677.3 130.6 L678.8 130.5 L680.3 130.3 L681.8 130.2 L683.3 130.0 L684.7 129.8 L686.2 129.7 L687.7 129.5 L689.2 129.4 L690.7 129.2 L692.2 129.1 L693.7 128.9 L695.2 128.8 L696.7 128.6 L698.2 128.5 L699.7 128.3 L701.2 128.2 L702.7 128.0 L704.1 127.9 L705.6 127.7 L707.1 127.6 L708.6 127.4 L710.1 127.3 L711.6 127.2 L713.1 127.0 L714.6 126.9 L716.1 126.7 L717.6 126.6 L719.1 126.5 L720.6 126.3 L722.1 126.2 L723.6 126.0 L725.1 125.9 L726.6 125.8 L728.0 125.6 L729.5 125.5 L731.0 125.4 L732.5 125.3 L734.0 125.1 L735.5 125.0 L737.0 124.9 L738.5 124.7 L740.0 124.6 L741.5 124.5 L743.0 124.4 L744.5 124.2 L746.0 124.1 L747.5 124.0 L749.0 123.9 L750.0 123.8" stroke="#000000" stroke-dasharray="4.2 2.8"/>
<path d="M113.2 402.5 L113.3 400.5 L113.5 398.5 L113.6 396.5 L113.7 394.5 L113.8 392.5 L114.0 390.5 L114.1 388.5 L114.2 386.5 L114.3 384.5 L114.4 382.5 L114.6 380.5 L114.7 378.5 L114.8 376.5 L114.9 374.5 L115.0 372.5 L115.2 370.5 L115.3 368.5 L115.4 366.5 L115.5 364.5 L115.6 362.5 L115.7 360.5 L115.9 358.5 L116.0 356.5 L116.1 354.5 L116.2 352.5 L116.3 350.5 L116.4 348.5 L116.5 346.5 L116.6 344.5 L116.7 342.5 L116.8 340.5 L116.9 338.5 L117.0 336.5 L117.1 334.5 L117.2 332.5 L117.3 330.5 L117.4 328.5 L117.5 326.5 L117.6 324.5 L117.8 322.5 L117.9 320.5 L118.0 318.5 L118.1 316.5 L118.2 314.5 L118.3 312.5 L118.4 310.5 L118.5 308.5 L118.6 306.5 L118.8 304.5 L118.9 302.5 L119.0 300.5 L119.1 298.5 L119.3 296.5 L119.4 294.5 L119.5 292.5 L119.7 290.5 L119.8 288.5 L120.0 286.5 L120.1 284.5 L120.3 282.5 L120.4 280.5 L120.6 278.5 L120.7 276.5 L120.9 274.5 L121.1 272.5 L121.2 270.5 L121.4 268.5 L121.6 266.5 L121.8 264.5 L121.9 262.5 L122.2 260.5 L122.4 258.5 L122.6 256.5 L122.8 254.5 L123.1 252.5 L123.3 250.5 L123.5 248.5 L123.7 246.5 L124.0 244.5 L124.2 242.5 L124.4 240.5 L124.6 238.5 L124.8 236.5 L125.0 234.5 L125.2 232.5 L125.4 230.5 L125.6 228.5 L125.8 226.5 L125.9 224.5 L126.2 222.5 L126.4 220.5 L126.6 218.5 L126.8 216.5 L127.1 214.5 L127.3 212.5 L127.6 210.5 L127.8 208.5 L128.0 206.5 L128.3 204.5 L128.5 202.5 L128.7 200.5 L129.0 198.5 L129.2 196.5 L129.5 194.5 L129.9 192.5 L130.4 190.5 L130.8 188.5 L131.3 186.5 L131.7 184.5 L132.0 182.5 L132.3 180.5 L132.6 178.5 L132.8 176.5 L133.0 174.5 L133.3 172.5 L133.5 170.5 L133.8 168.5 L134.1 166.5 L134.4 164.5 L134.7 162.5 L136.2 162.5 L137.7 162.6 L139.2 162.6 L140.7 162.6 L142.2 162.7 L143.7 162.7 L145.2 162.7 L146.7 162.7 L148.1 162.8 L149.6 162.8 L151.1 162.8 L152.6 162.8 L154.1 162.9 L155.6 162.9 L157.1 162.9 L158.6 162.9 L160.1 163.0 L161.6 163.0 L163.1 163.0 L164.6 163.0 L166.1 163.1 L167.6 163.1 L169.1 163.1 L170.6 163.1 L172.1 163.2 L173.6 163.2 L175.1 163.2 L176.6 163.2 L178.1 163.3 L179.6 163.3 L181.2 163.3 L182.7 163.4 L184.2 163.4 L185.7 163.4 L187.2 163.5 L188.7 163.5 L190.2 163.5 L191.7 163.6 L193.2 163.6 L194.7 163.6 L196.2 163.7 L197.7 163.7 L199.2 163.8 L200.7 163.8 L202.2 163.8 L203.7 163.9 L205.2 163.9 L206.7 164.0 L208.2 164.0 L209.7 164.1 L211.2 164.1 L212.7 164.2 L214.2 164.3 L215.7 164.3 L217.2 164.4 L218.7 164.5 L220.2 164.5 L221.7 164.6 L223.2 164.7 L224.7 164.7 L226.2 164.8 L227.7 164.9 L229.2 165.0 L230.7 165.1 L232.2 165.1 L233.7 165.2 L235.2 165.3 L236.7 165.4 L238.2 165.5 L239.7 165.6 L241.2 165.7 L242.6 165.8 L244.1 165.9 L245.6 166.0 L247.1 166.2 L248.6 166.3 L250.1 166.4 L251.6 166.5 L253.1 166.6 L254.6 166.8 L256.1 166.9 L257.6 167.1 L259.1 167.2 L260.6 167.3 L262.1 167.5 L263.6 167.6 L265.0 167.8 L266.5 168.0 L268.0 168.1 L269.5 168.3 L271.0 168.5 L272.5 168.7 L274.0 168.8 L275.5 169.0 L276.9 169.2 L278.4 169.4 L279.9 169.6 L281.4 169.8 L282.9 170.0 L284.4 170.2 L285.8 170.4 L287.3 170.7 L288.8 170.9 L290.3 171.1 L291.8 171.4 L293.2 171.6 L294.7 171.9 L296.2 172.1 L297.7 172.4 L299.2 172.6 L300.6 172.9 L302.1 173.2 L303.6 173.4 L305.0 173.7 L306.5 174.0 L308.0 174.3 L309.5 174.6 L310.9 174.9 L312.4 175.2 L313.9 175.5 L315.3 175.9 L316.8 176.2 L318.3 176.5 L319.7 176.9 L321.2 177.2 L322.7 177.5 L324.1 177.9 L325.6 178.3 L327.1 178.6 L328.5 179.0 L330.0 179.3 L331.4 179.7 L332.9 180.0 L334.4 180.4 L335.8 180.7 L337.3 181.0 L338.8 181.3 L340.2 181.7 L341.7 182.0 L343.2 182.3 L344.6 182.5 L346.1 182.8 L347.6 183.1 L349.0 183.3 L350.5 183.5 L352.0 183.7 L353.5 183.9 L354.9 184.1 L356.4 184.2 L357.9 184.3 L359.4 184.4 L360.9 184.5 L362.4 184.5 L363.9 184.6 L365.3 184.6 L366.8 184.5 L368.3 184.5 L369.8 184.4 L371.3 184.3 L372.8 184.2 L374.3 184.1 L375.8 183.9 L377.3 183.7 L378.8 183.5 L380.3 183.3 L381.8 183.0 L383.3 182.7 L384.7 182.4 L386.2 182.1 L387.7 181.8 L389.2 181.4 L390.6 181.1 L392.1 180.7 L393.5 180.3 L395.0 179.8 L396.4 179.4 L397.9 178.9 L399.3 178.4 L400.7 177.9 L402.1 177.4 L403.5 176.9 L404.9 176.3 L406.3 175.8 L407.7 175.2 L409.1 174.6 L410.5 174.0 L411.8 173.3 L413.2 172.7 L414.6 172.1 L415.9 171.4 L417.3 170.8 L418.6 170.1 L420.0 169.4 L421.3 168.8 L422.6 168.1 L424.0 167.4 L425.3 166.7 L426.7 166.0 L428.0 165.3 L429.3 164.6 L430.7 164.0 L432.0 163.3 L433.3 162.6 L434.7 161.9 L436.0 161.2 L437.4 160.6 L438.7 159.9 L440.1 159.2 L441.4 158.6 L442.8 158.0 L444.1 157.4 L445.5 156.8 L446.9 156.2 L448.3 155.6 L449.7 155.1 L451.0 154.5 L452.4 154.0 L453.8 153.5 L455.3 153.1 L456.7 152.6 L458.1 152.1 L459.5 151.7 L461.0 151.3 L462.4 150.9 L463.8 150.5 L465.3 150.1 L466.7 149.7 L468.2 149.3 L469.6 149.0 L471.1 148.6 L472.5 148.3 L474.0 148.0 L475.5 147.6 L476.9 147.3 L478.4 147.0 L479.9 146.7 L481.3 146.4 L482.8 146.1 L484.3 145.8 L485.7 145.5 L487.2 145.3 L488.7 145.0 L490.2 144.7 L491.7 144.4 L493.1 144.2 L494.6 143.9 L496.1 143.6 L497.6 143.4 L499.0 143.1 L500.5 142.8 L502.0 142.6 L503.5 142.3 L504.9 142.0 L506.4 141.8 L507.9 141.5 L509.4 141.3 L510.9 141.0 L512.3 140.8 L513.8 140.5 L515.3 140.3 L516.8 140.0 L518.3 139.8 L519.7 139.6 L521.2 139.3 L522.7 139.1 L524.2 138.9 L525.7 138.6 L527.2 138.4 L528.6 138.2 L530.1 137.9 L531.6 137.7 L533.1 137.5 L534.6 137.3 L536.1 137.0 L537.5 136.8 L539.0 136.6 L540.5 136.4 L542.0 136.2 L543.5 136.0 L545.0 135.7 L546.4 135.5 L547.9 135.3 L549.4 135.1 L550.9 134.9 L552.4 134.7 L553.9 134.5 L555.4 134.3 L556.8 134.1 L558.3 133.9 L559.8 133.7 L561.3 133.5 L562.8 133.3 L564.3 133.1 L565.8 132.9 L567.3 132.7 L568.7 132.5 L570.2 132.4 L571.7 132.2 L573.2 132.0 L574.7 131.8 L576.2 131.6 L577.7 131.4 L579.2 131.3 L580.7 131.1 L582.1 130.9 L583.6 130.7 L585.1 130.5 L586.6 130.4 L588.1 130.2 L589.6 130.0 L591.1 129.8 L592.6 129.7 L594.1 129.5 L595.6 129.3 L597.0 129.2 L598.5 129.0 L600.0 128.8 L601.5 128.7 L603.0 128.5 L604.5 128.3 L606.0 128.2 L607.5 128.0 L609.0 127.9 L610.5 127.7 L612.0 127.5 L613.4 127.4 L614.9 127.2 L616.4 127.1 L617.9 126.9 L619.4 126.8 L620.9 126.6 L622.4 126.4 L623.9 126.3 L625.4 126.1 L626.9 126.0 L628.4 125.8 L629.9 125.7 L631.4 125.5 L632.8 125.4 L634.3 125.2 L635.8 125.1 L637.3 125.0 L638.8 124.8 L640.3 124.7 L641.8 124.5 L643.3 124.4 L644.8 124.2 L646.3 124.1 L647.8 123.9 L649.3 123.8 L650.8 123.7 L652.3 123.5 L653.8 123.4 L655.3 123.2 L656.7 123.1 L658.2 123.0 L659.7 122.8 L661.2 122.7 L662.7 122.6 L664.2 122.4 L665.7 122.3 L667.2 122.1 L668.7 122.0 L670.2 121.9 L671.7 121.7 L673.2 121.6 L674.7 121.5 L676.2 121.3 L677.7 121.2 L679.2 121.1 L680.7 120.9 L682.1 120.8 L683.6 120.7 L685.1 120.5 L686.6 120.4 L688.1 120.3 L689.6 120.1 L691.1 120.0 L692.6 119.9 L694.1 119.7 L695.6 119.6 L697.1 119.5 L698.6 119.3 L700.1 119.2 L701.6 119.1 L703.1 118.9 L704.6 118.8 L706.1 118.7 L707.5 118.5 L709.0 118.4 L710.5 118.3 L712.0 118.1 L713.5 118.0 L715.0 117.9 L716.5 117.7 L718.0 117.6 L719.5 117.5 L721.0 117.3 L722.5 117.2 L724.0 117.1 L725.5 116.9 L727.0 116.8 L728.5 116.7 L730.0 116.5 L731.4 116.4 L732.9 116.3 L734.4 116.1 L735.9 116.0 L737.4 115.9 L738.9 115.7 L740.4 115.6 L741.9 115.5 L743.4 115.3 L744.9 115.2 L746.4 115.0 L747.9 114.9 L749.4 114.8 L750.0 114.7" stroke="#ffa500"/>
<path d="M113.2 402.5 L113.3 400.5 L113.5 398.5 L113.6 396.5 L113.7 394.5 L113.8 392.5 L114.0 390.5 L114.1 388.5 L114.2 386.5 L114.3 384.5 L114.4 382.5 L114.6 380.5 L114.7 378.5 L114.8 376.5 L114.9 374.5 L115.0 372.5 L115.2 370.5 L115.3 368.5 L115.4 366.5 L115.5 364.5 L115.6 362.5 L115.7 360.5 L115.9 358.5 L116.0 356.5 L116.1 354.5 L116.2 352.5 L116.3 350.5 L116.4 348.5 L116.5 346.5 L116.6 344.5 L116.7 342.5 L116.8 340.5 L116.9 338.5 L117.0 336.5 L117.1 334.5 L117.2 332.5 L117.3 330.5 L117.4 328.5 L117.5 326.5 L117.6 324.5 L117.8 322.5 L117.9 320.5 L118.0 318.5 L118.1 316.5 L118.2 314.5 L118.3 312.5 L118.4 310.5 L118.5 308.5 L118.6 306.5 L118.8 304.5 L118.9 302.5 L119.0 300.5 L119.1 298.5 L119.3 296.5 L119.4 294.5 L119.5 292.5 L119.7 290.5 L119.8 288.5 L120.0 286.5 L120.1 284.5 L120.3 282.5 L120.4 280.5 L120.6 278.5 L120.7 276.5 L120.9 274.5 L121.1 272.5 L121.2 270.5 L121.4 268.5 L121.6 266.5 L121.8 264.5 L121.9 262.5 L122.2 260.5 L122.4 258.5 L122.6 256.5 L122.8 254.5 L123.1 252.5 L123.3 250.5 L123.5 248.5 L123.7 246.5 L124.0 244.5 L124.2 242.5 L124.4 240.5 L124.6 238.5 L124.8 236.5 L125.0 234.5 L125.2 232.5 L125.4 230.5 L125.6 228.5 L125.8 226.5 L125.9 224.5 L126.2 222.5 L126.4 220.5 L126.6 218.5 L126.8 216.5 L127.1 214.5 L127.3 212.5 L127.6 210.5 L127.8 208.5 L128.0 206.5 L128.3 204.5 L128.5 202.5 L128.7 200.5 L129.0 198.5 L129.2 196.5 L129.5 194.5 L129.9 192.5 L130.4 190.5 L130.8 188.5 L131.3 186.5 L131.7 184.5 L132.0 182.5 L132.3 180.5 L132.6 178.5 L132.8 176.5 L133.0 174.5 L133.3 172.5 L133.5 170.5 L133.8 168.5 L134.1 166.5 L134.4 164.5 L134.7 162.5 L135.0 160.5 L135.3 158.5 L135.6 156.5 L136.0 154.5 L136.1 154.0 L137.5 154.1 L139.0 154.2 L140.5 154.3 L142.0 154.4 L143.5 154.5 L145.0 154.6 L146.5 154.7 L147.9 154.8 L149.4 154.9 L150.9 155.0 L152.4 155.1 L153.9 155.2 L155.4 155.3 L156.9 155.4 L158.4 155.5 L159.9 155.6 L161.4 155.7 L162.9 155.8 L164.4 156.0 L165.9 156.1 L167.4 156.2 L168.9 156.3 L170.4 156.5 L171.9 156.6 L173.4 156.8 L174.9 156.9 L176.4 157.1 L177.9 157.2 L179.4 157.4 L180.9 157.5 L182.4 157.7 L183.9 157.9 L185.4 158.1 L186.9 158.3 L188.4 158.5 L189.9 158.7 L191.4 158.9 L192.9 159.1 L194.4 159.4 L195.9 159.6 L197.4 159.9 L198.8 160.2 L200.3 160.4 L201.8 160.7 L203.3 161.1 L204.7 161.4 L206.2 161.7 L207.6 162.1 L209.1 162.4 L210.5 162.8 L212.0 163.2 L213.4 163.6 L214.8 164.1 L216.2 164.5 L217.6 165.0 L219.0 165.5 L220.4 166.0 L221.8 166.5 L223.2 167.1 L224.6 167.6 L226.0 168.2 L227.3 168.8 L228.7 169.4 L230.0 170.0 L231.4 170.7 L232.7 171.3 L234.1 172.0 L235.4 172.7 L236.7 173.3 L238.1 174.0 L239.4 174.7 L240.7 175.4 L242.0 176.1 L243.4 176.9 L244.7 177.6 L246.0 178.3 L247.3 179.1 L248.6 179.8 L249.9 180.5 L251.3 181.3 L252.6 182.0 L253.9 182.7 L255.2 183.5 L256.5 184.2 L257.9 185.0 L259.2 185.7 L260.5 186.4 L261.8 187.1 L263.2 187.9 L264.5 188.6 L265.9 189.3 L267.2 190.0 L268.5 190.6 L269.9 191.3 L271.3 192.0 L272.6 192.6 L274.0 193.2 L275.3 193.9 L276.7 194.5 L278.1 195.0 L279.5 195.6 L280.9 196.1 L282.3 196.7 L283.7 197.1 L285.1 197.6 L286.5 198.1 L287.9 198.5 L289.4 198.9 L290.8 199.2 L292.3 199.6 L293.7 199.9 L295.2 200.2 L296.6 200.4 L298.1 200.7 L299.6 200.9 L301.1 201.1 L302.5 201.2 L304.0 201.3 L305.5 201.4 L307.0 201.5 L308.5 201.6 L310.0 201.6 L311.5 201.6 L313.0 201.6 L314.5 201.5 L316.0 201.4 L317.5 201.3 L318.9 201.2 L320.4 201.1 L321.9 200.9 L323.4 200.7 L324.9 200.5 L326.4 200.3 L327.9 200.0 L329.3 199.7 L330.8 199.4 L332.3 199.1 L333.8 198.8 L335.2 198.4 L336.7 198.0 L338.1 197.6 L339.6 197.2 L341.0 196.8 L342.5 196.4 L343.9 195.9 L345.4 195.4 L346.8 194.9 L348.2 194.4 L349.7 193.9 L351.1 193.4 L352.5 192.8 L353.9 192.2 L355.3 191.7 L356.7 191.1 L358.1 190.5 L359.4 189.9 L360.8 189.3 L362.2 188.6 L363.5 188.0 L364.9 187.3 L366.2 186.7 L367.6 186.0 L368.9 185.3 L370.2 184.6 L371.6 183.9 L372.9 183.2 L374.2 182.5 L375.5 181.8 L376.8 181.0 L378.1 180.3 L379.4 179.5 L380.7 178.8 L381.9 178.0 L383.2 177.2 L384.5 176.4 L385.7 175.6 L387.0 174.8 L388.3 174.0 L389.5 173.2 L390.8 172.4 L392.0 171.5 L393.3 170.7 L394.5 169.8 L395.7 169.0 L397.0 168.1 L398.2 167.3 L399.5 166.4 L400.7 165.6 L401.9 164.7 L403.2 163.9 L404.4 163.0 L405.7 162.2 L406.9 161.3 L408.2 160.5 L409.4 159.7 L410.7 158.9 L412.0 158.1 L413.2 157.3 L414.5 156.5 L415.8 155.7 L417.1 155.0 L418.4 154.2 L419.7 153.5 L421.0 152.8 L422.3 152.1 L423.7 151.4 L425.0 150.8 L426.3 150.1 L427.7 149.5 L429.1 148.9 L430.4 148.3 L431.8 147.7 L433.2 147.1 L434.6 146.6 L435.9 146.0 L437.3 145.5 L438.7 145.0 L440.1 144.5 L441.6 144.0 L443.0 143.5 L444.4 143.0 L445.8 142.6 L447.2 142.1 L448.7 141.7 L450.1 141.3 L451.6 140.8 L453.0 140.4 L454.4 140.0 L455.9 139.7 L457.3 139.3 L458.8 138.9 L460.3 138.6 L461.7 138.2 L463.2 137.9 L464.6 137.5 L466.1 137.2 L467.6 136.9 L469.0 136.6 L470.5 136.3 L472.0 136.0 L473.5 135.7 L474.9 135.4 L476.4 135.1 L477.9 134.9 L479.4 134.6 L480.8 134.3 L482.3 134.1 L483.8 133.8 L485.3 133.6 L486.8 133.4 L488.2 133.1 L489.7 132.9 L491.2 132.7 L492.7 132.4 L494.2 132.2 L495.7 132.0 L497.2 131.8 L498.7 131.6 L500.1 131.4 L501.6 131.2 L503.1 131.0 L504.6 130.8 L506.1 130.6 L507.6 130.4 L509.1 130.2 L510.6 130.0 L512.1 129.8 L513.6 129.6 L515.0 129.4 L516.5 129.2 L518.0 129.0 L519.5 128.8 L521.0 128.6 L522.5 128.4 L524.0 128.2 L525.5 128.1 L527.0 127.9 L528.5 127.7 L529.9 127.5 L531.4 127.3 L532.9 127.1 L534.4 126.9 L535.9 126.7 L537.4 126.5 L538.9 126.3 L540.4 126.2 L541.8 126.0 L543.3 125.8 L544.8 125.6 L546.3 125.4 L547.8 125.2 L549.3 125.0 L550.8 124.9 L552.3 124.7 L553.8 124.5 L555.2 124.3 L556.7 124.1 L558.2 124.0 L559.7 123.8 L561.2 123.6 L562.7 123.4 L564.2 123.2 L565.7 123.1 L567.1 122.9 L568.6 122.7 L570.1 122.6 L571.6 122.4 L573.1 122.2 L574.6 122.1 L576.1 121.9 L577.6 121.7 L579.1 121.6 L580.5 121.4 L582.0 121.2 L583.5 121.1 L585.0 120.9 L586.5 120.8 L588.0 120.6 L589.5 120.5 L591.0 120.3 L592.5 120.2 L594.0 120.0 L595.4 119.9 L596.9 119.7 L598.4 119.6 L599.9 119.4 L601.4 119.3 L602.9 119.2 L604.4 119.0 L605.9 118.9 L607.4 118.8 L608.9 118.6 L610.4 118.5 L611.9 118.4 L613.4 118.2 L614.8 118.1 L616.3 118.0 L617.8 117.9 L619.3 117.7 L620.8 117.6 L622.3 117.5 L623.8 117.4 L625.3 117.3 L626.8 117.2 L628.3 117.0 L629.8 116.9 L631.3 116.8 L632.8 116.7 L634.3 116.6 L635.8 116.5 L637.3 116.4 L638.8 116.3 L640.3 116.2 L641.8 116.0 L643.3 115.9 L644.8 115.8 L646.3 115.7 L647.8 115.6 L649.3 115.5 L650.8 115.4 L652.3 115.3 L653.8 115.2 L655.3 115.1 L656.8 115.0 L658.2 114.9 L659.7 114.8 L661.2 114.7 L662.7 114.6 L664.2 114.5 L665.7 114.4 L667.2 114.3 L668.7 114.2 L670.2 114.0 L671.7 113.9 L673.2 113.8 L674.7 113.7 L676.2 113.6 L677.7 113.5 L679.2 113.4 L680.7 113.3 L682.2 113.2 L683.7 113.1 L685.2 113.0 L686.7 112.9 L688.2 112.7 L689.7 112.6 L691.2 112.5 L692.7 112.4 L694.2 112.3 L695.7 112.2 L697.2 112.1 L698.7 111.9 L700.2 111.8 L701.7 111.7 L703.2 111.6 L704.7 111.5 L706.2 111.3 L707.6 111.2 L709.1 111.1 L710.6 111.0 L712.1 110.8 L713.6 110.7 L715.1 110.6 L716.6 110.4 L718.1 110.3 L719.6 110.2 L721.1 110.0 L722.6 109.9 L724.1 109.7 L725.6 109.6 L727.1 109.4 L728.6 109.3 L730.0 109.1 L731.5 109.0 L733.0 108.8 L734.5 108.7 L736.0 108.5 L737.5 108.3 L739.0 108.2 L740.5 108.0 L742.0 107.9 L743.5 107.7 L744.9 107.5 L746.4 107.3 L747.9 107.2 L749.4 107.0 L750.0 106.9" stroke="#0000ff"/>
<path d="M113.2 402.5 L113.3 400.5 L113.5 398.5 L113.6 396.5 L113.7 394.5 L113.8 392.5 L114.0 390.5 L114.1 388.5 L114.2 386.5 L114.3 384.5 L114.4 382.5 L114.6 380.5 L114.7 378.5 L114.8 376.5 L114.9 374.5 L115.0 372.5 L115.2 370.5 L115.3 368.5 L115.4 366.5 L115.5 364.5 L115.6 362.5 L115.7 360.5 L115.9 358.5 L116.0 356.5 L116.1 354.5 L116.2 352.5 L116.3 350.5 L116.4 348.5 L116.5 346.5 L116.6 344.5 L116.7 342.5 L116.8 340.5 L116.9 338.5 L117.0 336.5 L117.1 334.5 L117.2 332.5 L117.3 330.5 L117.4 328.5 L117.5 326.5 L117.6 324.5 L117.8 322.5 L117.9 320.5 L118.0 318.5 L118.1 316.5 L118.2 314.5 L118.3 312.5 L118.4 310.5 L118.5 308.5 L118.6 306.5 L118.8 304.5 L118.9 302.5 L119.0 300.5 L119.1 298.5 L119.3 296.5 L119.4 294.5 L119.5 292.5 L119.7 290.5 L119.8 288.5 L120.0 286.5 L120.1 284.5 L120.3 282.5 L120.4 280.5 L120.6 278.5 L120.7 276.5 L120.9 274.5 L121.1 272.5 L121.2 270.5 L121.4 268.5 L121.6 266.5 L121.8 264.5 L121.9 262.5 L122.2 260.5 L122.4 258.5 L122.6 256.5 L122.8 254.5 L123.1 252.5 L123.3 250.5 L123.5 248.5 L123.7 246.5 L124.0 244.5 L124.2 242.5 L124.4 240.5 L124.6 238.5 L124.8 236.5 L125.0 234.5 L125.2 232.5 L125.4 230.5 L125.6 228.5 L125.8 226.5 L125.9 224.5 L126.2 222.5 L126.4 220.5 L126.6 218.5 L126.8 216.5 L127.1 214.5 L127.3 212.5 L127.6 210.5 L127.8 208.5 L128.0 206.5 L128.3 204.5 L128.5 202.5 L128.7 200.5 L129.0 198.5 L129.2 196.5 L129.5 194.5 L129.9 192.5 L130.4 190.5 L130.8 188.5 L131.3 186.5 L131.7 184.5 L132.0 182.5 L132.3 180.5 L132.6 178.5 L132.8 176.5 L133.0 174.5 L133.3 172.5 L133.5 170.5 L133.8 168.5 L134.1 166.5 L134.4 164.5 L134.7 162.5 L135.0 160.5 L135.3 158.5 L135.6 156.5 L136.0 154.5 L136.3 152.5 L136.7 150.5 L137.1 148.5 L137.5 146.5 L137.7 145.6 L139.2 145.7 L140.6 145.9 L142.1 146.1 L143.6 146.3 L145.1 146.5 L146.6 146.7 L148.1 147.0 L149.5 147.3 L151.0 147.6 L152.4 148.0 L153.9 148.4 L155.3 148.7 L156.8 149.2 L158.2 149.6 L159.7 150.0 L161.1 150.5 L162.5 151.0 L163.9 151.5 L165.3 152.1 L166.7 152.6 L168.1 153.2 L169.5 153.8 L170.8 154.4 L172.2 155.1 L173.5 155.7 L174.9 156.4 L176.2 157.1 L177.5 157.8 L178.9 158.6 L180.2 159.3 L181.5 160.1 L182.7 160.9 L184.0 161.7 L185.3 162.5 L186.5 163.3 L187.8 164.2 L189.0 165.1 L190.2 165.9 L191.4 166.8 L192.6 167.8 L193.7 168.7 L194.9 169.6 L196.0 170.6 L197.2 171.6 L198.3 172.6 L199.4 173.6 L200.5 174.6 L201.6 175.6 L202.7 176.6 L203.8 177.6 L204.9 178.7 L205.9 179.7 L207.0 180.8 L208.1 181.8 L209.1 182.9 L210.2 183.9 L211.3 185.0 L212.3 186.1 L213.4 187.1 L214.5 188.2 L215.5 189.3 L216.6 190.3 L217.7 191.3 L218.8 192.4 L219.9 193.4 L221.1 194.4 L222.2 195.3 L223.4 196.3 L224.5 197.2 L225.7 198.1 L227.0 199.0 L228.2 199.8 L229.5 200.6 L230.8 201.3 L232.1 202.1 L233.4 202.8 L234.7 203.4 L236.1 204.1 L237.4 204.7 L238.8 205.2 L240.2 205.8 L241.6 206.3 L243.1 206.7 L244.5 207.2 L245.9 207.6 L247.4 208.0 L248.8 208.3 L250.3 208.6 L251.8 208.9 L253.3 209.2 L254.7 209.4 L256.2 209.6 L257.7 209.7 L259.2 209.9 L260.7 209.9 L262.2 210.0 L263.7 210.0 L265.2 210.0 L266.6 210.0 L268.1 210.0 L269.6 209.9 L271.1 209.8 L272.6 209.7 L274.1 209.5 L275.6 209.4 L277.1 209.2 L278.6 209.0 L280.1 208.8 L281.6 208.6 L283.1 208.4 L284.6 208.2 L286.0 207.9 L287.5 207.7 L289.0 207.4 L290.5 207.2 L292.0 206.9 L293.5 206.7 L295.0 206.4 L296.5 206.1 L298.0 205.9 L299.5 205.6 L301.0 205.3 L302.5 205.0 L304.0 204.6 L305.5 204.3 L307.0 203.9 L308.4 203.6 L309.9 203.2 L311.3 202.8 L312.8 202.4 L314.2 202.0 L315.6 201.5 L317.1 201.0 L318.5 200.5 L319.9 200.0 L321.3 199.5 L322.6 198.9 L324.0 198.4 L325.4 197.8 L326.7 197.2 L328.0 196.5 L329.4 195.9 L330.7 195.2 L332.0 194.5 L333.3 193.8 L334.6 193.1 L335.9 192.4 L337.2 191.6 L338.5 190.9 L339.7 190.1 L341.0 189.3 L342.3 188.5 L343.5 187.7 L344.8 186.9 L346.0 186.0 L347.3 185.2 L348.5 184.4 L349.7 183.5 L351.0 182.6 L352.2 181.8 L353.4 180.9 L354.6 180.0 L355.8 179.1 L357.1 178.3 L358.3 177.4 L359.5 176.5 L360.7 175.6 L361.9 174.7 L363.1 173.8 L364.3 172.9 L365.5 172.0 L366.8 171.1 L368.0 170.2 L369.2 169.3 L370.4 168.4 L371.6 167.5 L372.8 166.7 L374.1 165.8 L375.3 164.9 L376.5 164.0 L377.8 163.2 L379.0 162.3 L380.2 161.5 L381.5 160.7 L382.7 159.8 L384.0 159.0 L385.3 158.2 L386.5 157.4 L387.8 156.6 L389.1 155.9 L390.4 155.1 L391.7 154.4 L393.0 153.7 L394.3 152.9 L395.6 152.2 L396.9 151.5 L398.2 150.8 L399.5 150.1 L400.9 149.4 L402.2 148.7 L403.5 148.0 L404.9 147.3 L406.2 146.6 L407.5 146.0 L408.9 145.3 L410.3 144.6 L411.6 144.0 L413.0 143.3 L414.3 142.7 L415.7 142.0 L417.1 141.4 L418.5 140.8 L419.8 140.2 L421.2 139.7 L422.6 139.1 L424.0 138.6 L425.5 138.1 L426.9 137.6 L428.3 137.1 L429.7 136.7 L431.1 136.2 L432.6 135.8 L434.0 135.3 L435.4 134.9 L436.9 134.5 L438.3 134.1 L439.8 133.8 L441.2 133.4 L442.7 133.0 L444.1 132.7 L445.6 132.3 L447.0 132.0 L448.5 131.7 L450.0 131.4 L451.4 131.0 L452.9 130.7 L454.4 130.4 L455.8 130.1 L457.3 129.8 L458.8 129.6 L460.3 129.3 L461.7 129.0 L463.2 128.7 L464.7 128.4 L466.2 128.2 L467.6 127.9 L469.1 127.6 L470.6 127.4 L472.1 127.1 L473.5 126.8 L475.0 126.6 L476.5 126.3 L478.0 126.1 L479.5 125.8 L480.9 125.6 L482.4 125.3 L483.9 125.1 L485.4 124.8 L486.9 124.6 L488.3 124.4 L489.8 124.1 L491.3 123.9 L492.8 123.7 L494.3 123.4 L495.7 123.2 L497.2 123.0 L498.7 122.8 L500.2 122.5 L501.7 122.3 L503.1 122.1 L504.6 121.9 L506.1 121.7 L507.6 121.5 L509.1 121.3 L510.6 121.1 L512.1 120.9 L513.5 120.7 L515.0 120.5 L516.5 120.3 L518.0 120.1 L519.5 119.9 L521.0 119.7 L522.5 119.5 L523.9 119.3 L525.4 119.1 L526.9 118.9 L528.4 118.8 L529.9 118.6 L531.4 118.4 L532.9 118.2 L534.4 118.0 L535.8 117.9 L537.3 117.7 L538.8 117.5 L540.3 117.4 L541.8 117.2 L543.3 117.0 L544.8 116.9 L546.3 116.7 L547.8 116.5 L549.3 116.4 L550.7 116.2 L552.2 116.1 L553.7 115.9 L555.2 115.7 L556.7 115.6 L558.2 115.4 L559.7 115.3 L561.2 115.1 L562.7 115.0 L564.2 114.8 L565.7 114.7 L567.2 114.6 L568.7 114.4 L570.1 114.3 L571.6 114.1 L573.1 114.0 L574.6 113.8 L576.1 113.7 L577.6 113.6 L579.1 113.4 L580.6 113.3 L582.1 113.2 L583.6 113.0 L585.1 112.9 L586.6 112.8 L588.1 112.6 L589.6 112.5 L591.1 112.4 L592.6 112.3 L594.1 112.1 L595.6 112.0 L597.1 111.9 L598.5 111.8 L600.0 111.6 L601.5 111.5 L603.0 111.4 L604.5 111.3 L606.0 111.2 L607.5 111.0 L609.0 110.9 L610.5 110.8 L612.0 110.7 L613.5 110.6 L615.0 110.5 L616.5 110.3 L618.0 110.2 L619.5 110.1 L621.0 110.0 L622.5 109.9 L624.0 109.8 L625.5 109.7 L627.0 109.5 L628.5 109.4 L630.0 109.3 L631.5 109.2 L633.0 109.1 L634.5 109.0 L636.0 108.9 L637.5 108.8 L639.0 108.7 L640.5 108.5 L642.0 108.4 L643.5 108.3 L644.9 108.2 L646.4 108.1 L647.9 108.0 L649.4 107.9 L650.9 107.8 L652.4 107.7 L653.9 107.6 L655.4 107.4 L656.9 107.3 L658.4 107.2 L659.9 107.1 L661.4 107.0 L662.9 106.9 L664.4 106.8 L665.9 106.7 L667.4 106.6 L668.9 106.5 L670.4 106.3 L671.9 106.2 L673.4 106.1 L674.9 106.0 L676.4 105.9 L677.9 105.8 L679.4 105.7 L680.9 105.6 L682.4 105.5 L683.9 105.3 L685.4 105.2 L686.9 105.1 L688.4 105.0 L689.9 104.9 L691.4 104.8 L692.8 104.6 L694.3 104.5 L695.8 104.4 L697.3 104.3 L698.8 104.2 L700.3 104.1 L701.8 103.9 L703.3 103.8 L704.8 103.7 L706.3 103.6 L707.8 103.5 L709.3 103.3 L710.8 103.2 L712.3 103.1 L713.8 103.0 L715.3 102.8 L716.8 102.7 L718.3 102.6 L719.8 102.4 L721.2 102.3 L722.7 102.2 L724.2 102.0 L725.7 101.9 L727.2 101.8 L728.7 101.6 L730.2 101.5 L731.7 101.4 L733.2 101.2 L734.7 101.1 L736.2 101.0 L737.7 100.8 L739.2 100.7 L740.6 100.5 L742.1 100.4 L743.6 100.2 L745.1 100.1 L746.6 99.9 L748.1 99.8 L749.6 99.6 L750.0 99.6" stroke="#808080"/>
<path d="M113.2 402.5 L113.3 400.5 L113.5 398.5 L113.6 396.5 L113.7 394.5 L113.8 392.5 L114.0 390.5 L114.1 388.5 L114.2 386.5 L114.3 384.5 L114.4 382.5 L114.6 380.5 L114.7 378.5 L114.8 376.5 L114.9 374.5 L115.0 372.5 L115.2 370.5 L115.3 368.5 L115.4 366.5 L115.5 364.5 L115.6 362.5 L115.7 360.5 L115.9 358.5 L116.0 356.5 L116.1 354.5 L116.2 352.5 L116.3 350.5 L116.4 348.5 L116.5 346.5 L116.6 344.5 L116.7 342.5 L116.8 340.5 L116.9 338.5 L117.0 336.5 L117.1 334.5 L117.2 332.5 L117.3 330.5 L117.4 328.5 L117.5 326.5 L117.6 324.5 L117.8 322.5 L117.9 320.5 L118.0 318.5 L118.1 316.5 L118.2 314.5 L118.3 312.5 L118.4 310.5 L118.5 308.5 L118.6 306.5 L118.8 304.5 L118.9 302.5 L119.0 300.5 L119.1 298.5 L119.3 296.5 L119.4 294.5 L119.5 292.5 L119.7 290.5 L119.8 288.5 L120.0 286.5 L120.1 284.5 L120.3 282.5 L120.4 280.5 L120.6 278.5 L120.7 276.5 L120.9 274.5 L121.1 272.5 L121.2 270.5 L121.4 268.5 L121.6 266.5 L121.8 264.5 L121.9 262.5 L122.2 260.5 L122.4 258.5 L122.6 256.5 L122.8 254.5 L123.1 252.5 L123.3 250.5 L123.5 248.5 L123.7 246.5 L124.0 244.5 L124.2 242.5 L124.4 240.5 L124.6 238.5 L124.8 236.5 L125.0 234.5 L125.2 232.5 L125.4 230.5 L125.6 228.5 L125.8 226.5 L125.9 224.5 L126.2 222.5 L126.4 220.5 L126.6 218.5 L126.8 216.5 L127.1 214.5 L127.3 212.5 L127.6 210.5 L127.8 208.5 L128.0 206.5 L128.3 204.5 L128.5 202.5 L128.7 200.5 L129.0 198.5 L129.2 196.5 L129.5 194.5 L129.9 192.5 L130.4 190.5 L130.8 188.5 L131.3 186.5 L131.7 184.5 L132.0 182.5 L132.3 180.5 L132.6 178.5 L132.8 176.5 L133.0 174.5 L133.3 172.5 L133.5 170.5 L133.8 168.5 L134.1 166.5 L134.4 164.5 L134.7 162.5 L135.0 160.5 L135.3 158.5 L135.6 156.5 L136.0 154.5 L136.3 152.5 L136.7 150.5 L137.1 148.5 L137.5 146.5 L137.9 144.5 L138.3 142.5 L138.8 140.5 L139.3 138.5 L139.8 136.5 L140.1 135.0 L141.5 135.8 L142.7 136.6 L144.0 137.5 L145.2 138.4 L146.3 139.4 L147.4 140.4 L148.5 141.4 L149.5 142.5 L150.5 143.6 L151.5 144.7 L152.4 145.9 L153.3 147.1 L154.2 148.3 L155.1 149.5 L155.9 150.8 L156.7 152.0 L157.5 153.3 L158.3 154.6 L159.1 155.8 L159.8 157.1 L160.6 158.4 L161.3 159.7 L162.0 161.0 L162.7 162.3 L163.4 163.6 L164.2 164.9 L164.9 166.2 L165.6 167.5 L166.3 168.8 L167.0 170.1 L167.7 171.4 L168.4 172.8 L169.1 174.1 L169.8 175.4 L170.5 176.7 L171.3 178.1 L172.0 179.4 L172.7 180.7 L173.5 182.0 L174.3 183.4 L175.1 184.7 L175.9 186.0 L176.7 187.3 L177.5 188.6 L178.3 189.9 L179.2 191.1 L180.0 192.4 L180.9 193.6 L181.8 194.9 L182.7 196.1 L183.7 197.2 L184.6 198.4 L185.6 199.5 L186.6 200.7 L187.6 201.7 L188.6 202.8 L189.7 203.8 L190.7 204.8 L191.8 205.8 L193.0 206.7 L194.1 207.6 L195.3 208.5 L196.5 209.3 L197.7 210.1 L199.0 210.9 L200.3 211.6 L201.6 212.2 L202.9 212.8 L204.2 213.4 L205.6 213.9 L207.0 214.4 L208.4 214.9 L209.9 215.3 L211.3 215.7 L212.8 216.1 L214.3 216.4 L215.8 216.7 L217.3 217.0 L218.8 217.2 L220.3 217.4 L221.9 217.6 L223.4 217.7 L224.9 217.9 L226.5 218.0 L228.0 218.1 L229.5 218.1 L231.1 218.2 L232.6 218.2 L234.1 218.2 L235.6 218.2 L237.1 218.1 L238.6 218.1 L240.1 218.0 L241.6 218.0 L243.1 217.9 L244.6 217.8 L246.1 217.6 L247.6 217.5 L249.0 217.3 L250.5 217.1 L252.0 216.9 L253.5 216.7 L254.9 216.5 L256.4 216.3 L257.8 216.0 L259.3 215.7 L260.8 215.5 L262.2 215.2 L263.7 214.8 L265.1 214.5 L266.6 214.2 L268.0 213.8 L269.5 213.4 L270.9 213.0 L272.4 212.6 L273.8 212.2 L275.3 211.8 L276.7 211.3 L278.1 210.9 L279.6 210.4 L281.0 209.9 L282.4 209.4 L283.8 208.8 L285.2 208.3 L286.6 207.7 L288.0 207.1 L289.4 206.5 L290.8 205.9 L292.1 205.3 L293.5 204.7 L294.8 204.0 L296.2 203.3 L297.5 202.6 L298.8 201.9 L300.2 201.2 L301.5 200.4 L302.8 199.7 L304.0 198.9 L305.3 198.1 L306.6 197.3 L307.8 196.5 L309.0 195.6 L310.3 194.8 L311.5 193.9 L312.7 193.0 L313.8 192.1 L315.0 191.1 L316.2 190.2 L317.3 189.3 L318.5 188.3 L319.6 187.3 L320.8 186.4 L321.9 185.4 L323.1 184.4 L324.2 183.5 L325.3 182.5 L326.5 181.5 L327.6 180.5 L328.8 179.6 L329.9 178.6 L331.1 177.7 L332.3 176.7 L333.4 175.8 L334.6 174.9 L335.8 174.0 L337.0 173.1 L338.2 172.2 L339.4 171.3 L340.6 170.4 L341.8 169.5 L343.1 168.6 L344.3 167.7 L345.5 166.8 L346.7 166.0 L347.9 165.1 L349.2 164.2 L350.4 163.4 L351.6 162.5 L352.9 161.6 L354.1 160.8 L355.4 160.0 L356.6 159.1 L357.9 158.3 L359.2 157.5 L360.4 156.7 L361.7 155.9 L363.0 155.2 L364.3 154.4 L365.6 153.6 L366.9 152.9 L368.2 152.2 L369.5 151.4 L370.8 150.7 L372.1 150.0 L373.4 149.3 L374.7 148.6 L376.1 147.9 L377.4 147.3 L378.7 146.6 L380.1 146.0 L381.4 145.3 L382.8 144.7 L384.1 144.0 L385.5 143.4 L386.8 142.8 L388.2 142.1 L389.6 141.5 L390.9 140.9 L392.3 140.3 L393.7 139.7 L395.1 139.1 L396.5 138.6 L397.9 138.0 L399.3 137.4 L400.6 136.8 L402.0 136.3 L403.4 135.7 L404.8 135.2 L406.3 134.7 L407.7 134.1 L409.1 133.6 L410.5 133.1 L411.9 132.6 L413.3 132.1 L414.7 131.6 L416.2 131.1 L417.6 130.6 L419.0 130.1 L420.4 129.7 L421.9 129.2 L423.3 128.8 L424.7 128.3 L426.2 127.9 L427.6 127.5 L429.0 127.0 L430.5 126.6 L431.9 126.2 L433.4 125.8 L434.8 125.4 L436.3 125.0 L437.7 124.6 L439.1 124.3 L440.6 123.9 L442.1 123.5 L443.5 123.2 L445.0 122.8 L446.4 122.5 L447.9 122.1 L449.3 121.8 L450.8 121.4 L452.3 121.1 L453.7 120.8 L455.2 120.5 L456.6 120.2 L458.1 119.9 L459.6 119.6 L461.0 119.3 L462.5 119.0 L464.0 118.7 L465.5 118.4 L466.9 118.1 L468.4 117.9 L469.9 117.6 L471.3 117.3 L472.8 117.1 L474.3 116.8 L475.8 116.5 L477.3 116.3 L478.7 116.1 L480.2 115.8 L481.7 115.6 L483.2 115.3 L484.7 115.1 L486.1 114.9 L487.6 114.7 L489.1 114.4 L490.6 114.2 L492.1 114.0 L493.6 113.8 L495.0 113.6 L496.5 113.4 L498.0 113.2 L499.5 113.0 L501.0 112.8 L502.5 112.6 L504.0 112.4 L505.5 112.2 L506.9 112.0 L508.4 111.8 L509.9 111.6 L511.4 111.5 L512.9 111.3 L514.4 111.1 L515.9 110.9 L517.4 110.8 L518.9 110.6 L520.4 110.4 L521.8 110.2 L523.3 110.1 L524.8 109.9 L526.3 109.7 L527.8 109.6 L529.3 109.4 L530.8 109.3 L532.3 109.1 L533.8 108.9 L535.3 108.8 L536.8 108.6 L538.3 108.5 L539.8 108.3 L541.2 108.2 L542.7 108.0 L544.2 107.9 L545.7 107.7 L547.2 107.6 L548.7 107.4 L550.2 107.3 L551.7 107.1 L553.2 107.0 L554.7 106.8 L556.2 106.7 L557.7 106.5 L559.2 106.4 L560.7 106.2 L562.2 106.1 L563.6 105.9 L565.1 105.8 L566.6 105.6 L568.1 105.5 L569.6 105.3 L571.1 105.2 L572.6 105.1 L574.1 104.9 L575.6 104.8 L577.1 104.6 L578.6 104.5 L580.1 104.4 L581.6 104.2 L583.1 104.1 L584.6 103.9 L586.0 103.8 L587.5 103.7 L589.0 103.5 L590.5 103.4 L592.0 103.3 L593.5 103.1 L595.0 103.0 L596.5 102.9 L598.0 102.7 L599.5 102.6 L601.0 102.5 L602.5 102.3 L604.0 102.2 L605.5 102.1 L607.0 101.9 L608.5 101.8 L609.9 101.7 L611.4 101.5 L612.9 101.4 L614.4 101.3 L615.9 101.2 L617.4 101.0 L618.9 100.9 L620.4 100.8 L621.9 100.6 L623.4 100.5 L624.9 100.4 L626.4 100.3 L627.9 100.1 L629.4 100.0 L630.9 99.9 L632.4 99.8 L633.9 99.6 L635.3 99.5 L636.8 99.4 L638.3 99.3 L639.8 99.2 L641.3 99.0 L642.8 98.9 L644.3 98.8 L645.8 98.7 L647.3 98.5 L648.8 98.4 L650.3 98.3 L651.8 98.2 L653.3 98.1 L654.8 97.9 L656.3 97.8 L657.8 97.7 L659.3 97.6 L660.8 97.5 L662.2 97.3 L663.7 97.2 L665.2 97.1 L666.7 97.0 L668.2 96.9 L669.7 96.7 L671.2 96.6 L672.7 96.5 L674.2 96.4 L675.7 96.3 L677.2 96.2 L678.7 96.0 L680.2 95.9 L681.7 95.8 L683.2 95.7 L684.7 95.6 L686.2 95.4 L687.7 95.3 L689.2 95.2 L690.7 95.1 L692.1 95.0 L693.6 94.9 L695.1 94.7 L696.6 94.6 L698.1 94.5 L699.6 94.4 L701.1 94.3 L702.6 94.2 L704.1 94.1 L705.6 93.9 L707.1 93.8 L708.6 93.7 L710.1 93.6 L711.6 93.5 L713.1 93.4 L714.6 93.2 L716.1 93.1 L717.6 93.0 L719.1 92.9 L720.6 92.8 L722.1 92.7 L723.6 92.6 L725.1 92.4 L726.5 92.3 L728.0 92.2 L729.5 92.1 L731.0 92.0 L732.5 91.9 L734.0 91.7 L735.5 91.6 L737.0 91.5 L738.5 91.4 L740.0 91.3 L741.5 91.2 L743.0 91.0 L744.5 90.9 L746.0 90.8 L747.5 90.7 L749.0 90.6 L750.0 90.5" stroke="#ff0000"/>
<path d="M113.2 402.5 L113.3 400.5 L113.5 398.5 L113.6 396.5 L113.7 394.5 L113.8 392.5 L114.0 390.5 L114.1 388.5 L114.2 386.5 L114.3 384.5 L114.4 382.5 L114.6 380.5 L114.7 378.5 L114.8 376.5 L114.9 374.5 L115.0 372.5 L115.2 370.5 L115.3 368.5 L115.4 366.5 L115.5 364.5 L115.6 362.5 L115.7 360.5 L115.9 358.5 L116.0 356.5 L116.1 354.5 L116.2 352.5 L116.3 350.5 L116.4 348.5 L116.5 346.5 L116.6 344.5 L116.7 342.5 L116.8 340.5 L116.9 338.5 L117.0 336.5 L117.1 334.5 L117.2 332.5 L117.3 330.5 L117.4 328.5 L117.5 326.5 L117.6 324.5 L117.8 322.5 L117.9 320.5 L118.0 318.5 L118.1 316.5 L118.2 314.5 L118.3 312.5 L118.4 310.5 L118.5 308.5 L118.6 306.5 L118.8 304.5 L118.9 302.5 L119.0 300.5 L119.1 298.5 L119.3 296.5 L119.4 294.5 L119.5 292.5 L119.7 290.5 L119.8 288.5 L120.0 286.5 L120.1 284.5 L120.3 282.5 L120.4 280.5 L120.6 278.5 L120.7 276.5 L120.9 274.5 L121.1 272.5 L121.2 270.5 L121.4 268.5 L121.6 266.5 L121.8 264.5 L121.9 262.5 L122.2 260.5 L122.4 258.5 L122.6 256.5 L122.8 254.5 L123.1 252.5 L123.3 250.5 L123.5 248.5 L123.7 246.5 L124.0 244.5 L124.2 242.5 L124.4 240.5 L124.6 238.5 L124.8 236.5 L125.0 234.5 L125.2 232.5 L125.4 230.5 L125.6 228.5 L125.8 226.5 L125.9 224.5 L126.2 222.5 L126.4 220.5 L126.6 218.5 L126.8 216.5 L127.1 214.5 L127.3 212.5 L127.6 210.5 L127.8 208.5 L128.0 206.5 L128.3 204.5 L128.5 202.5 L128.7 200.5 L129.0 198.5 L129.2 196.5 L129.5 194.5 L129.9 192.5 L130.4 190.5 L130.8 188.5 L131.3 186.5 L131.7 184.5 L132.0 182.5 L132.3 180.5 L132.6 178.5 L132.8 176.5 L133.0 174.5 L133.3 172.5 L133.5 170.5 L133.8 168.5 L134.1 166.5 L134.4 164.5 L134.7 162.5 L135.0 160.5 L135.3 158.5 L135.6 156.5 L136.0 154.5 L136.3 152.5 L136.7 150.5 L137.1 148.5 L137.5 146.5 L137.9 144.5 L138.3 142.5 L138.8 140.5 L139.3 138.5 L139.8 136.5 L140.3 134.5 L140.8 132.5 L141.3 130.5 L141.9 128.5 L142.4 126.5 L142.7 125.5 L143.0 127.0 L143.4 128.5 L143.7 129.9 L144.0 131.4 L144.3 132.9 L144.6 134.4 L144.9 135.8 L145.2 137.3 L145.4 138.8 L145.7 140.3 L145.9 141.7 L146.2 143.2 L146.4 144.7 L146.7 146.1 L146.9 147.6 L147.1 149.1 L147.4 150.6 L147.6 152.0 L147.8 153.5 L148.0 155.0 L148.2 156.5 L148.4 157.9 L148.7 159.4 L148.9 160.9 L149.1 162.4 L149.3 163.9 L149.5 165.3 L149.8 166.8 L150.0 168.3 L150.2 169.8 L150.5 171.3 L150.7 172.8 L151.0 174.2 L151.2 175.7 L151.5 177.2 L151.8 178.7 L152.1 180.2 L152.4 181.7 L152.8 183.1 L153.2 184.6 L153.6 186.0 L154.0 187.5 L154.4 188.9 L154.9 190.4 L155.4 191.8 L156.0 193.2 L156.6 194.6 L157.2 196.0 L157.9 197.3 L158.6 198.7 L159.3 200.0 L160.1 201.3 L160.8 202.6 L161.7 203.8 L162.5 205.1 L163.4 206.3 L164.4 207.5 L165.3 208.6 L166.3 209.7 L167.4 210.8 L168.4 211.8 L169.5 212.8 L170.6 213.8 L171.8 214.7 L173.0 215.6 L174.2 216.4 L175.4 217.2 L176.7 217.9 L178.0 218.6 L179.3 219.2 L180.7 219.8 L182.0 220.4 L183.4 220.8 L184.8 221.3 L186.3 221.7 L187.7 222.1 L189.2 222.4 L190.7 222.7 L192.2 222.9 L193.7 223.1 L195.2 223.3 L196.7 223.4 L198.2 223.6 L199.7 223.6 L201.2 223.7 L202.8 223.7 L204.3 223.7 L205.8 223.6 L207.3 223.6 L208.9 223.5 L210.4 223.4 L211.9 223.2 L213.4 223.1 L214.9 222.9 L216.4 222.7 L217.9 222.5 L219.4 222.3 L220.9 222.0 L222.4 221.7 L223.8 221.4 L225.3 221.1 L226.8 220.8 L228.2 220.4 L229.7 220.0 L231.1 219.7 L232.6 219.2 L234.0 218.8 L235.4 218.3 L236.8 217.9 L238.2 217.4 L239.6 216.9 L241.0 216.3 L242.4 215.8 L243.8 215.2 L245.1 214.6 L246.5 214.0 L247.8 213.4 L249.1 212.7 L250.4 212.0 L251.8 211.3 L253.1 210.6 L254.3 209.9 L255.6 209.1 L256.9 208.4 L258.2 207.6 L259.4 206.8 L260.7 206.0 L261.9 205.2 L263.2 204.4 L264.4 203.5 L265.6 202.7 L266.9 201.8 L268.1 200.9 L269.3 200.1 L270.5 199.2 L271.7 198.3 L272.9 197.4 L274.1 196.5 L275.3 195.5 L276.5 194.6 L277.7 193.7 L278.9 192.8 L280.1 191.8 L281.3 190.9 L282.5 189.9 L283.6 189.0 L284.8 188.1 L286.0 187.1 L287.2 186.2 L288.4 185.3 L289.6 184.3 L290.8 183.4 L292.0 182.5 L293.2 181.5 L294.4 180.6 L295.6 179.7 L296.8 178.8 L298.0 177.9 L299.2 177.0 L300.4 176.1 L301.6 175.3 L302.9 174.4 L304.1 173.5 L305.3 172.7 L306.6 171.9 L307.8 171.0 L309.1 170.2 L310.3 169.4 L311.6 168.6 L312.8 167.8 L314.1 167.0 L315.4 166.3 L316.7 165.5 L317.9 164.7 L319.2 164.0 L320.5 163.2 L321.8 162.5 L323.1 161.7 L324.4 161.0 L325.7 160.2 L327.0 159.5 L328.3 158.8 L329.6 158.0 L330.9 157.3 L332.2 156.6 L333.5 155.8 L334.8 155.1 L336.1 154.4 L337.4 153.7 L338.8 153.0 L340.1 152.2 L341.4 151.5 L342.7 150.8 L344.0 150.1 L345.4 149.4 L346.7 148.7 L348.0 148.0 L349.3 147.3 L350.7 146.6 L352.0 145.9 L353.3 145.2 L354.7 144.5 L356.0 143.8 L357.4 143.1 L358.7 142.4 L360.0 141.8 L361.4 141.1 L362.7 140.4 L364.1 139.8 L365.4 139.1 L366.8 138.5 L368.2 137.8 L369.5 137.2 L370.9 136.5 L372.2 135.9 L373.6 135.3 L375.0 134.7 L376.3 134.0 L377.7 133.4 L379.1 132.8 L380.5 132.2 L381.8 131.6 L383.2 131.0 L384.6 130.5 L386.0 129.9 L387.4 129.3 L388.8 128.8 L390.2 128.2 L391.6 127.7 L393.0 127.1 L394.4 126.6 L395.8 126.1 L397.2 125.6 L398.6 125.1 L400.0 124.6 L401.4 124.1 L402.8 123.6 L404.2 123.1 L405.6 122.6 L407.0 122.1 L408.5 121.6 L409.9 121.1 L411.3 120.6 L412.7 120.2 L414.1 119.7 L415.6 119.2 L417.0 118.7 L418.4 118.3 L419.8 117.8 L421.3 117.3 L422.7 116.9 L424.1 116.4 L425.6 115.9 L427.0 115.5 L428.4 115.0 L429.9 114.6 L431.3 114.2 L432.7 113.7 L434.2 113.3 L435.6 112.9 L437.0 112.4 L438.5 112.0 L439.9 111.6 L441.4 111.2 L442.8 110.8 L444.3 110.4 L445.7 110.0 L447.2 109.6 L448.6 109.3 L450.1 108.9 L451.5 108.5 L453.0 108.2 L454.5 107.8 L455.9 107.5 L457.4 107.2 L458.9 106.9 L460.3 106.6 L461.8 106.3 L463.3 106.0 L464.7 105.7 L466.2 105.4 L467.7 105.2 L469.2 104.9 L470.6 104.7 L472.1 104.4 L473.6 104.2 L475.1 104.0 L476.6 103.8 L478.1 103.6 L479.5 103.3 L481.0 103.1 L482.5 102.9 L484.0 102.7 L485.5 102.5 L487.0 102.4 L488.5 102.2 L490.0 102.0 L491.4 101.8 L492.9 101.6 L494.4 101.4 L495.9 101.3 L497.4 101.1 L498.9 100.9 L500.4 100.7 L501.9 100.5 L503.4 100.4 L504.9 100.2 L506.3 100.0 L507.8 99.8 L509.3 99.6 L510.8 99.5 L512.3 99.3 L513.8 99.1 L515.3 98.9 L516.8 98.7 L518.3 98.6 L519.8 98.4 L521.2 98.2 L522.7 98.0 L524.2 97.8 L525.7 97.6 L527.2 97.5 L528.7 97.3 L530.2 97.1 L531.7 96.9 L533.2 96.8 L534.6 96.6 L536.1 96.4 L537.6 96.2 L539.1 96.1 L540.6 95.9 L542.1 95.7 L543.6 95.6 L545.1 95.4 L546.6 95.2 L548.1 95.1 L549.5 94.9 L551.0 94.7 L552.5 94.6 L554.0 94.4 L555.5 94.3 L557.0 94.1 L558.5 93.9 L560.0 93.8 L561.5 93.6 L563.0 93.5 L564.5 93.3 L566.0 93.2 L567.4 93.0 L568.9 92.9 L570.4 92.7 L571.9 92.6 L573.4 92.4 L574.9 92.3 L576.4 92.1 L577.9 92.0 L579.4 91.8 L580.9 91.7 L582.4 91.5 L583.9 91.4 L585.4 91.3 L586.9 91.1 L588.3 91.0 L589.8 90.8 L591.3 90.7 L592.8 90.6 L594.3 90.4 L595.8 90.3 L597.3 90.2 L598.8 90.0 L600.3 89.9 L601.8 89.8 L603.3 89.6 L604.8 89.5 L606.3 89.4 L607.8 89.2 L609.3 89.1 L610.8 89.0 L612.2 88.8 L613.7 88.7 L615.2 88.6 L616.7 88.5 L618.2 88.3 L619.7 88.2 L621.2 88.1 L622.7 87.9 L624.2 87.8 L625.7 87.7 L627.2 87.6 L628.7 87.4 L630.2 87.3 L631.7 87.2 L633.2 87.1 L634.7 86.9 L636.2 86.8 L637.7 86.7 L639.2 86.6 L640.7 86.5 L642.1 86.3 L643.6 86.2 L645.1 86.1 L646.6 86.0 L648.1 85.9 L649.6 85.7 L651.1 85.6 L652.6 85.5 L654.1 85.4 L655.6 85.2 L657.1 85.1 L658.6 85.0 L660.1 84.9 L661.6 84.8 L663.1 84.6 L664.6 84.5 L666.1 84.4 L667.6 84.3 L669.1 84.2 L670.6 84.1 L672.1 83.9 L673.5 83.8 L675.0 83.7 L676.5 83.6 L678.0 83.5 L679.5 83.3 L681.0 83.2 L682.5 83.1 L684.0 83.0 L685.5 82.8 L687.0 82.7 L688.5 82.6 L690.0 82.5 L691.5 82.4 L693.0 82.2 L694.5 82.1 L696.0 82.0 L697.5 81.9 L699.0 81.8 L700.5 81.6 L702.0 81.5 L703.5 81.4 L704.9 81.3 L706.4 81.1 L707.9 81.0 L709.4 80.9 L710.9 80.8 L712.4 80.6 L713.9 80.5 L715.4 80.4 L716.9 80.3 L718.4 80.1 L719.9 80.0 L721.4 79.9 L722.9 79.7 L724.4 79.6 L725.9 79.5 L727.4 79.4 L728.9 79.2 L730.4 79.1 L731.8 79.0 L733.3 78.8 L734.8 78.7 L736.3 78.6 L737.8 78.4 L739.3 78.3 L740.8 78.2 L742.3 78.0 L743.8 77.9 L745.3 77.7 L746.8 77.6 L748.3 77.5 L749.8 77.3 L750.0 77.3" stroke="#8060ff"/>
<path d="M113.2 402.5 L113.3 400.5 L113.5 398.5 L113.6 396.5 L113.7 394.5 L113.8 392.5 L114.0 390.5 L114.1 388.5 L114.2 386.5 L114.3 384.5 L114.4 382.5 L114.6 380.5 L114.7 378.5 L114.8 376.5 L114.9 374.5 L115.0 372.5 L115.2 370.5 L115.3 368.5 L115.4 366.5 L115.5 364.5 L115.6 362.5 L115.7 360.5 L115.9 358.5 L116.0 356.5 L116.1 354.5 L116.2 352.5 L116.3 350.5 L116.4 348.5 L116.5 346.5 L116.6 344.5 L116.7 342.5 L116.8 340.5 L116.9 338.5 L117.0 336.5 L117.1 334.5 L117.2 332.5 L117.3 330.5 L117.4 328.5 L117.5 326.5 L117.6 324.5 L117.8 322.5 L117.9 320.5 L118.0 318.5 L118.1 316.5 L118.2 314.5 L118.3 312.5 L118.4 310.5 L118.5 308.5 L118.6 306.5 L118.8 304.5 L118.9 302.5 L119.0 300.5 L119.1 298.5 L119.3 296.5 L119.4 294.5 L119.5 292.5 L119.7 290.5 L119.8 288.5 L120.0 286.5 L120.1 284.5 L120.3 282.5 L120.4 280.5 L120.6 278.5 L120.7 276.5 L120.9 274.5 L121.1 272.5 L121.2 270.5 L121.4 268.5 L121.6 266.5 L121.8 264.5 L121.9 262.5 L122.2 260.5 L122.4 258.5 L122.6 256.5 L122.8 254.5 L123.1 252.5 L123.3 250.5 L123.5 248.5 L123.7 246.5 L124.0 244.5 L124.2 242.5 L124.4 240.5 L124.6 238.5 L124.8 236.5 L125.0 234.5 L125.2 232.5 L125.4 230.5 L125.6 228.5 L125.8 226.5 L125.9 224.5 L126.2 222.5 L126.4 220.5 L126.6 218.5 L126.8 216.5 L127.1 214.5 L127.3 212.5 L127.6 210.5 L127.8 208.5 L128.0 206.5 L128.3 204.5 L128.5 202.5 L128.7 200.5 L129.0 198.5 L129.2 196.5 L129.5 194.5 L129.9 192.5 L130.4 190.5 L130.8 188.5 L131.3 186.5 L131.7 184.5 L132.0 182.5 L132.3 180.5 L132.6 178.5 L132.8 176.5 L133.0 174.5 L133.3 172.5 L133.5 170.5 L133.8 168.5 L134.1 166.5 L134.4 164.5 L134.7 162.5 L135.0 160.5 L135.3 158.5 L135.6 156.5 L136.0 154.5 L136.3 152.5 L136.7 150.5 L137.1 148.5 L137.5 146.5 L137.9 144.5 L138.3 142.5 L138.8 140.5 L139.3 138.5 L139.8 136.5 L140.3 134.5 L140.8 132.5 L141.3 130.5 L141.9 128.5 L142.4 126.5 L142.7 125.5 L142.9 127.0 L143.2 128.5 L143.4 130.0 L143.6 131.5 L143.9 133.0 L144.1 134.5 L144.3 136.0 L144.5 137.5 L144.7 139.0 L144.8 140.5 L145.0 142.0 L145.2 143.4 L145.4 144.9 L145.5 146.4 L145.7 147.9 L145.9 149.4 L146.0 150.8 L146.2 152.3 L146.3 153.8 L146.5 155.3 L146.6 156.7 L146.8 158.2 L147.0 159.7 L147.1 161.1 L147.3 162.6 L147.4 164.1 L147.6 165.6 L147.8 167.1 L147.9 168.5 L148.1 170.0 L148.3 171.5 L148.5 173.0 L148.7 174.5 L148.9 176.0 L149.1 177.5 L149.3 178.9 L149.5 180.4 L149.8 181.9 L150.0 183.4 L150.2 185.0 L150.5 186.5 L150.8 188.0 L151.1 189.5 L151.4 191.0 L151.7 192.5 L152.0 194.0 L152.4 195.5 L152.8 197.0 L153.2 198.4 L153.7 199.9 L154.1 201.3 L154.7 202.7 L155.2 204.1 L155.8 205.5 L156.5 206.8 L157.2 208.2 L157.9 209.5 L158.7 210.7 L159.5 211.9 L160.4 213.1 L161.3 214.3 L162.3 215.4 L163.3 216.5 L164.4 217.5 L165.5 218.4 L166.6 219.3 L167.8 220.2 L169.1 221.0 L170.3 221.7 L171.6 222.4 L173.0 223.0 L174.3 223.6 L175.7 224.1 L177.1 224.5 L178.5 224.9 L180.0 225.2 L181.4 225.5 L182.9 225.8 L184.4 225.9 L185.9 226.1 L187.4 226.2 L188.9 226.2 L190.4 226.2 L192.0 226.2 L193.5 226.1 L195.0 226.0 L196.6 225.9 L198.1 225.8 L199.6 225.6 L201.1 225.4 L202.6 225.2 L204.1 224.9 L205.6 224.6 L207.1 224.3 L208.6 224.0 L210.0 223.7 L211.5 223.3 L212.9 223.0 L214.4 222.6 L215.8 222.1 L217.3 221.7 L218.7 221.2 L220.1 220.7 L221.5 220.2 L222.9 219.7 L224.3 219.1 L225.6 218.6 L227.0 218.0 L228.3 217.4 L229.7 216.7 L231.0 216.1 L232.4 215.4 L233.7 214.7 L235.0 214.0 L236.3 213.3 L237.5 212.5 L238.8 211.8 L240.1 211.0 L241.3 210.2 L242.6 209.4 L243.8 208.6 L245.1 207.8 L246.3 206.9 L247.5 206.1 L248.7 205.2 L249.9 204.3 L251.2 203.4 L252.4 202.5 L253.6 201.6 L254.8 200.7 L255.9 199.8 L257.1 198.9 L258.3 198.0 L259.5 197.1 L260.7 196.1 L261.9 195.2 L263.1 194.3 L264.2 193.3 L265.4 192.4 L266.6 191.5 L267.8 190.5 L269.0 189.6 L270.2 188.7 L271.4 187.7 L272.6 186.8 L273.8 185.9 L275.0 185.0 L276.2 184.1 L277.4 183.2 L278.6 182.3 L279.8 181.4 L281.0 180.6 L282.2 179.7 L283.5 178.8 L284.7 178.0 L285.9 177.1 L287.2 176.3 L288.4 175.4 L289.7 174.6 L290.9 173.7 L292.2 172.9 L293.4 172.1 L294.7 171.3 L295.9 170.5 L297.2 169.7 L298.5 168.8 L299.7 168.0 L301.0 167.3 L302.3 166.5 L303.5 165.7 L304.8 164.9 L306.1 164.1 L307.4 163.3 L308.7 162.6 L310.0 161.8 L311.3 161.0 L312.5 160.3 L313.8 159.5 L315.1 158.8 L316.4 158.0 L317.7 157.3 L319.0 156.6 L320.4 155.8 L321.7 155.1 L323.0 154.4 L324.3 153.7 L325.6 152.9 L326.9 152.2 L328.2 151.5 L329.6 150.8 L330.9 150.1 L332.2 149.4 L333.5 148.7 L334.9 148.0 L336.2 147.4 L337.5 146.7 L338.9 146.0 L340.2 145.3 L341.5 144.7 L342.9 144.0 L344.2 143.3 L345.6 142.7 L346.9 142.0 L348.3 141.4 L349.6 140.7 L351.0 140.1 L352.3 139.4 L353.7 138.8 L355.0 138.2 L356.4 137.5 L357.8 136.9 L359.1 136.3 L360.5 135.7 L361.9 135.0 L363.2 134.4 L364.6 133.8 L366.0 133.2 L367.4 132.6 L368.7 132.0 L370.1 131.4 L371.5 130.8 L372.9 130.2 L374.3 129.7 L375.6 129.1 L377.0 128.5 L378.4 127.9 L379.8 127.3 L381.2 126.8 L382.6 126.2 L384.0 125.6 L385.4 125.1 L386.8 124.5 L388.2 124.0 L389.6 123.4 L391.0 122.9 L392.4 122.3 L393.8 121.8 L395.2 121.3 L396.6 120.7 L398.0 120.2 L399.4 119.7 L400.8 119.2 L402.2 118.6 L403.6 118.1 L405.0 117.6 L406.4 117.1 L407.9 116.6 L409.3 116.1 L410.7 115.6 L412.1 115.1 L413.5 114.6 L415.0 114.1 L416.4 113.7 L417.8 113.2 L419.2 112.7 L420.7 112.3 L422.1 111.8 L423.5 111.3 L425.0 110.9 L426.4 110.4 L427.8 110.0 L429.3 109.5 L430.7 109.1 L432.1 108.7 L433.6 108.2 L435.0 107.8 L436.5 107.4 L437.9 107.0 L439.3 106.6 L440.8 106.2 L442.2 105.8 L443.7 105.4 L445.1 105.0 L446.6 104.6 L448.0 104.2 L449.5 103.8 L450.9 103.5 L452.4 103.1 L453.8 102.8 L455.3 102.4 L456.8 102.1 L458.2 101.7 L459.7 101.4 L461.1 101.0 L462.6 100.7 L464.1 100.4 L465.5 100.1 L467.0 99.8 L468.5 99.5 L469.9 99.2 L471.4 98.9 L472.9 98.6 L474.3 98.3 L475.8 98.0 L477.3 97.7 L478.7 97.4 L480.2 97.2 L481.7 96.9 L483.2 96.6 L484.6 96.4 L486.1 96.1 L487.6 95.9 L489.1 95.6 L490.6 95.4 L492.0 95.2 L493.5 94.9 L495.0 94.7 L496.5 94.5 L498.0 94.3 L499.4 94.0 L500.9 93.8 L502.4 93.6 L503.9 93.4 L505.4 93.2 L506.9 93.0 L508.4 92.8 L509.8 92.6 L511.3 92.4 L512.8 92.2 L514.3 92.0 L515.8 91.8 L517.3 91.6 L518.8 91.5 L520.3 91.3 L521.8 91.1 L523.2 90.9 L524.7 90.7 L526.2 90.6 L527.7 90.4 L529.2 90.2 L530.7 90.1 L532.2 89.9 L533.7 89.7 L535.2 89.6 L536.7 89.4 L538.2 89.2 L539.6 89.1 L541.1 88.9 L542.6 88.7 L544.1 88.6 L545.6 88.4 L547.1 88.3 L548.6 88.1 L550.1 88.0 L551.6 87.8 L553.1 87.7 L554.6 87.5 L556.1 87.4 L557.6 87.2 L559.1 87.1 L560.5 86.9 L562.0 86.8 L563.5 86.6 L565.0 86.5 L566.5 86.3 L568.0 86.2 L569.5 86.0 L571.0 85.9 L572.5 85.7 L574.0 85.6 L575.5 85.5 L577.0 85.3 L578.5 85.2 L580.0 85.0 L581.5 84.9 L583.0 84.8 L584.4 84.6 L585.9 84.5 L587.4 84.4 L588.9 84.2 L590.4 84.1 L591.9 84.0 L593.4 83.8 L594.9 83.7 L596.4 83.6 L597.9 83.4 L599.4 83.3 L600.9 83.2 L602.4 83.0 L603.9 82.9 L605.4 82.8 L606.9 82.7 L608.4 82.5 L609.8 82.4 L611.3 82.3 L612.8 82.1 L614.3 82.0 L615.8 81.9 L617.3 81.8 L618.8 81.6 L620.3 81.5 L621.8 81.4 L623.3 81.3 L624.8 81.1 L626.3 81.0 L627.8 80.9 L629.3 80.8 L630.8 80.6 L632.3 80.5 L633.8 80.4 L635.3 80.3 L636.7 80.2 L638.2 80.0 L639.7 79.9 L641.2 79.8 L642.7 79.7 L644.2 79.5 L645.7 79.4 L647.2 79.3 L648.7 79.2 L650.2 79.1 L651.7 78.9 L653.2 78.8 L654.7 78.7 L656.2 78.6 L657.7 78.5 L659.2 78.3 L660.7 78.2 L662.2 78.1 L663.7 78.0 L665.1 77.9 L666.6 77.7 L668.1 77.6 L669.6 77.5 L671.1 77.4 L672.6 77.3 L674.1 77.1 L675.6 77.0 L677.1 76.9 L678.6 76.8 L680.1 76.7 L681.6 76.5 L683.1 76.4 L684.6 76.3 L686.1 76.2 L687.6 76.0 L689.1 75.9 L690.6 75.8 L692.1 75.7 L693.6 75.6 L695.0 75.4 L696.5 75.3 L698.0 75.2 L699.5 75.1 L701.0 74.9 L702.5 74.8 L704.0 74.7 L705.5 74.6 L707.0 74.4 L708.5 74.3 L710.0 74.2 L711.5 74.1 L713.0 73.9 L714.5 73.8 L716.0 73.7 L717.5 73.5 L719.0 73.4 L720.5 73.3 L722.0 73.1 L723.4 73.0 L724.9 72.9 L726.4 72.8 L727.9 72.6 L729.4 72.5 L730.9 72.4 L732.4 72.2 L733.9 72.1 L735.4 72.0 L736.9 71.8 L738.4 71.7 L739.9 71.5 L741.4 71.4 L742.9 71.3 L744.4 71.1 L745.9 71.0 L747.4 70.9 L748.8 70.7 L750.0 70.6" stroke="#808000"/>
<path d="M113.2 402.5 L113.3 400.5 L113.5 398.5 L113.6 396.5 L113.7 394.5 L113.8 392.5 L114.0 390.5 L114.1 388.5 L114.2 386.5 L114.3 384.5 L114.4 382.5 L114.6 380.5 L114.7 378.5 L114.8 376.5 L114.9 374.5 L115.0 372.5 L115.2 370.5 L115.3 368.5 L115.4 366.5 L115.5 364.5 L115.6 362.5 L115.7 360.5 L115.9 358.5 L116.0 356.5 L116.1 354.5 L116.2 352.5 L116.3 350.5 L116.4 348.5 L116.5 346.5 L116.6 344.5 L116.7 342.5 L116.8 340.5 L116.9 338.5 L117.0 336.5 L117.1 334.5 L117.2 332.5 L117.3 330.5 L117.4 328.5 L117.5 326.5 L117.6 324.5 L117.8 322.5 L117.9 320.5 L118.0 318.5 L118.1 316.5 L118.2 314.5 L118.3 312.5 L118.4 310.5 L118.5 308.5 L118.6 306.5 L118.8 304.5 L118.9 302.5 L119.0 300.5 L119.1 298.5 L119.3 296.5 L119.4 294.5 L119.5 292.5 L119.7 290.5 L119.8 288.5 L120.0 286.5 L120.1 284.5 L120.3 282.5 L120.4 280.5 L120.6 278.5 L120.7 276.5 L120.9 274.5 L121.1 272.5 L121.2 270.5 L121.4 268.5 L121.6 266.5 L121.8 264.5 L121.9 262.5 L122.2 260.5 L122.4 258.5 L122.6 256.5 L122.8 254.5 L123.1 252.5 L123.3 250.5 L123.5 248.5 L123.7 246.5 L124.0 244.5 L124.2 242.5 L124.4 240.5 L124.6 238.5 L124.8 236.5 L125.0 234.5 L125.2 232.5 L125.4 230.5 L125.6 228.5 L125.8 226.5 L125.9 224.5 L126.2 222.5 L126.4 220.5 L126.6 218.5 L126.8 216.5 L127.1 214.5 L127.3 212.5 L127.6 210.5 L127.8 208.5 L128.0 206.5 L128.3 204.5 L128.5 202.5 L128.7 200.5 L129.0 198.5 L129.2 196.5 L129.5 194.5 L129.9 192.5 L130.4 190.5 L130.8 188.5 L131.3 186.5 L131.7 184.5 L132.0 182.5 L132.3 180.5 L132.6 178.5 L132.8 176.5 L133.0 174.5 L133.3 172.5 L133.5 170.5 L133.8 168.5 L134.1 166.5 L134.4 164.5 L134.7 162.5 L135.0 160.5 L135.3 158.5 L135.6 156.5 L136.0 154.5 L136.3 152.5 L136.7 150.5 L137.1 148.5 L137.5 146.5 L137.9 144.5 L138.3 142.5 L138.8 140.5 L139.3 138.5 L139.8 136.5 L140.3 134.5 L140.8 132.5 L141.3 130.5 L141.9 128.5 L142.4 126.5 L142.7 125.5 L142.8 127.0 L142.9 128.6 L143.1 130.1 L143.2 131.6 L143.3 133.1 L143.4 134.6 L143.6 136.1 L143.7 137.6 L143.8 139.1 L144.0 140.6 L144.1 142.1 L144.2 143.6 L144.4 145.1 L144.5 146.6 L144.6 148.1 L144.8 149.5 L144.9 151.0 L145.0 152.5 L145.2 154.0 L145.3 155.4 L145.5 156.9 L145.6 158.4 L145.7 159.9 L145.9 161.3 L146.0 162.8 L146.2 164.3 L146.3 165.8 L146.5 167.2 L146.6 168.7 L146.7 170.2 L146.9 171.7 L147.0 173.2 L147.2 174.6 L147.3 176.1 L147.5 177.6 L147.6 179.1 L147.7 180.6 L147.9 182.1 L148.0 183.6 L148.2 185.1 L148.3 186.7 L148.5 188.2 L148.6 189.7 L148.7 191.2 L148.9 192.8 L149.0 194.3 L149.2 195.9 L149.4 197.4 L149.5 199.0 L149.8 200.5 L150.0 202.0 L150.3 203.5 L150.7 204.9 L151.1 206.3 L151.6 207.7 L152.2 209.0 L152.9 210.3 L153.6 211.6 L154.5 212.7 L155.4 213.8 L156.5 214.9 L157.6 215.8 L158.8 216.7 L160.0 217.4 L161.4 218.1 L162.7 218.6 L164.1 219.1 L165.6 219.3 L167.0 219.5 L168.5 219.6 L170.0 219.5 L171.6 219.4 L173.1 219.2 L174.6 218.9 L176.1 218.6 L177.6 218.2 L179.0 217.8 L180.5 217.4 L181.9 216.9 L183.3 216.4 L184.7 215.8 L186.1 215.3 L187.5 214.7 L188.9 214.1 L190.3 213.5 L191.6 212.9 L193.0 212.2 L194.4 211.6 L195.7 210.9 L197.1 210.3 L198.4 209.6 L199.7 208.9 L201.1 208.2 L202.4 207.6 L203.7 206.9 L205.1 206.2 L206.4 205.5 L207.7 204.8 L209.0 204.1 L210.3 203.3 L211.7 202.6 L213.0 201.9 L214.3 201.2 L215.6 200.4 L216.9 199.7 L218.2 199.0 L219.5 198.2 L220.8 197.5 L222.1 196.8 L223.4 196.0 L224.7 195.3 L226.0 194.5 L227.3 193.8 L228.6 193.0 L229.9 192.3 L231.2 191.6 L232.5 190.8 L233.8 190.1 L235.1 189.3 L236.4 188.6 L237.7 187.8 L239.0 187.1 L240.3 186.3 L241.6 185.6 L242.9 184.9 L244.2 184.1 L245.5 183.4 L246.8 182.7 L248.2 181.9 L249.5 181.2 L250.8 180.4 L252.1 179.7 L253.4 179.0 L254.7 178.2 L256.0 177.5 L257.3 176.8 L258.6 176.0 L259.9 175.3 L261.2 174.6 L262.5 173.9 L263.9 173.1 L265.2 172.4 L266.5 171.7 L267.8 170.9 L269.1 170.2 L270.4 169.5 L271.7 168.8 L273.0 168.1 L274.4 167.3 L275.7 166.6 L277.0 165.9 L278.3 165.2 L279.6 164.5 L280.9 163.7 L282.3 163.0 L283.6 162.3 L284.9 161.6 L286.2 160.9 L287.5 160.2 L288.9 159.5 L290.2 158.8 L291.5 158.1 L292.8 157.3 L294.1 156.6 L295.5 155.9 L296.8 155.2 L298.1 154.5 L299.5 153.8 L300.8 153.1 L302.1 152.4 L303.4 151.7 L304.8 151.0 L306.1 150.3 L307.4 149.7 L308.8 149.0 L310.1 148.3 L311.4 147.6 L312.7 146.9 L314.1 146.2 L315.4 145.5 L316.8 144.8 L318.1 144.2 L319.4 143.5 L320.8 142.8 L322.1 142.1 L323.4 141.4 L324.8 140.8 L326.1 140.1 L327.5 139.4 L328.8 138.7 L330.1 138.1 L331.5 137.4 L332.8 136.7 L334.2 136.1 L335.5 135.4 L336.9 134.7 L338.2 134.1 L339.6 133.4 L340.9 132.8 L342.3 132.1 L343.6 131.5 L345.0 130.8 L346.3 130.1 L347.7 129.5 L349.0 128.8 L350.4 128.2 L351.7 127.6 L353.1 126.9 L354.4 126.3 L355.8 125.6 L357.2 125.0 L358.5 124.4 L359.9 123.7 L361.2 123.1 L362.6 122.5 L364.0 121.9 L365.3 121.2 L366.7 120.6 L368.1 120.0 L369.4 119.4 L370.8 118.8 L372.2 118.2 L373.6 117.6 L374.9 117.0 L376.3 116.3 L377.7 115.7 L379.1 115.2 L380.4 114.6 L381.8 114.0 L383.2 113.4 L384.6 112.8 L386.0 112.2 L387.3 111.6 L388.7 111.0 L390.1 110.5 L391.5 109.9 L392.9 109.3 L394.3 108.8 L395.7 108.2 L397.0 107.6 L398.4 107.1 L399.8 106.5 L401.2 106.0 L402.6 105.4 L404.0 104.9 L405.4 104.4 L406.8 103.8 L408.2 103.3 L409.6 102.8 L411.0 102.2 L412.4 101.7 L413.8 101.2 L415.3 100.7 L416.7 100.2 L418.1 99.7 L419.5 99.2 L420.9 98.7 L422.3 98.2 L423.7 97.7 L425.2 97.2 L426.6 96.7 L428.0 96.2 L429.4 95.7 L430.8 95.3 L432.3 94.8 L433.7 94.3 L435.1 93.9 L436.5 93.4 L438.0 93.0 L439.4 92.5 L440.8 92.1 L442.3 91.6 L443.7 91.2 L445.1 90.8 L446.6 90.3 L448.0 89.9 L449.5 89.5 L450.9 89.1 L452.3 88.6 L453.8 88.2 L455.2 87.8 L456.7 87.4 L458.1 87.0 L459.6 86.6 L461.0 86.2 L462.5 85.8 L463.9 85.5 L465.4 85.1 L466.8 84.7 L468.3 84.3 L469.7 84.0 L471.2 83.6 L472.6 83.3 L474.1 82.9 L475.5 82.6 L477.0 82.2 L478.5 81.9 L479.9 81.5 L481.4 81.2 L482.8 80.9 L484.3 80.5 L485.8 80.2 L487.2 79.9 L488.7 79.6 L490.2 79.3 L491.6 79.0 L493.1 78.7 L494.6 78.4 L496.1 78.1 L497.5 77.8 L499.0 77.5 L500.5 77.3 L501.9 77.0 L503.4 76.7 L504.9 76.5 L506.4 76.2 L507.8 75.9 L509.3 75.7 L510.8 75.5 L512.3 75.2 L513.8 75.0 L515.2 74.7 L516.7 74.5 L518.2 74.3 L519.7 74.1 L521.2 73.8 L522.7 73.6 L524.1 73.4 L525.6 73.2 L527.1 73.0 L528.6 72.8 L530.1 72.6 L531.6 72.4 L533.1 72.2 L534.5 72.0 L536.0 71.8 L537.5 71.6 L539.0 71.4 L540.5 71.3 L542.0 71.1 L543.5 70.9 L545.0 70.7 L546.5 70.6 L548.0 70.4 L549.4 70.2 L550.9 70.1 L552.4 69.9 L553.9 69.7 L555.4 69.6 L556.9 69.4 L558.4 69.3 L559.9 69.1 L561.4 69.0 L562.9 68.8 L564.4 68.7 L565.9 68.5 L567.4 68.4 L568.9 68.3 L570.4 68.1 L571.9 68.0 L573.4 67.8 L574.9 67.7 L576.4 67.6 L577.8 67.4 L579.3 67.3 L580.8 67.2 L582.3 67.1 L583.8 66.9 L585.3 66.8 L586.8 66.7 L588.3 66.5 L589.8 66.4 L591.3 66.3 L592.8 66.2 L594.3 66.0 L595.8 65.9 L597.3 65.8 L598.8 65.7 L600.3 65.5 L601.8 65.4 L603.3 65.3 L604.8 65.2 L606.3 65.1 L607.8 64.9 L609.3 64.8 L610.8 64.7 L612.3 64.6 L613.8 64.4 L615.3 64.3 L616.7 64.2 L618.2 64.1 L619.7 64.0 L621.2 63.8 L622.7 63.7 L624.2 63.6 L625.7 63.5 L627.2 63.3 L628.7 63.2 L630.2 63.1 L631.7 63.0 L633.2 62.9 L634.7 62.7 L636.2 62.6 L637.7 62.5 L639.2 62.4 L640.7 62.3 L642.2 62.1 L643.6 62.0 L645.1 61.9 L646.6 61.8 L648.1 61.7 L649.6 61.6 L651.1 61.4 L652.6 61.3 L654.1 61.2 L655.6 61.1 L657.1 61.0 L658.6 60.8 L660.1 60.7 L661.6 60.6 L663.1 60.5 L664.6 60.4 L666.1 60.3 L667.5 60.1 L669.0 60.0 L670.5 59.9 L672.0 59.8 L673.5 59.7 L675.0 59.6 L676.5 59.4 L678.0 59.3 L679.5 59.2 L681.0 59.1 L682.5 59.0 L684.0 58.9 L685.5 58.8 L687.0 58.6 L688.5 58.5 L690.0 58.4 L691.5 58.3 L692.9 58.2 L694.4 58.1 L695.9 58.0 L697.4 57.8 L698.9 57.7 L700.4 57.6 L701.9 57.5 L703.4 57.4 L704.9 57.3 L706.4 57.2 L707.9 57.1 L709.4 56.9 L710.9 56.8 L712.4 56.7 L713.9 56.6 L715.4 56.5 L716.9 56.4 L718.4 56.3 L719.9 56.2 L721.4 56.1 L722.9 55.9 L724.4 55.8 L725.9 55.7 L727.4 55.6 L728.8 55.5 L730.3 55.4 L731.8 55.3 L733.3 55.2 L734.8 55.1 L736.3 55.0 L737.8 54.9 L739.3 54.8 L740.8 54.7 L742.3 54.5 L743.8 54.4 L745.3 54.3 L746.8 54.2 L748.3 54.1 L749.8 54.0 L750.0 54.0" stroke="#9acd32"/>
</g>
<g stroke="#000" stroke-width="2" fill="none" stroke-linecap="square">
<rect x="113.7" y="10.1" width="636.3" height="466.3"/>
</g>
<path d="M161.6 476.4 v-5 M161.6 10.1 v5 M224.9 476.4 v-5 M224.9 10.1 v5 M257.4 476.4 v-5 M257.4 10.1 v5 M272.8 476.4 v-10.5 M272.8 10.1 v10.5 M320.7 476.4 v-5 M320.7 10.1 v5 M384.0 476.4 v-5 M384.0 10.1 v5 M416.4 476.4 v-5 M416.4 10.1 v5 M431.8 476.4 v-10.5 M431.8 10.1 v10.5 M479.7 476.4 v-5 M479.7 10.1 v5 M543.0 476.4 v-5 M543.0 10.1 v5 M575.5 476.4 v-5 M575.5 10.1 v5 M590.9 476.4 v-10.5 M590.9 10.1 v10.5 M638.8 476.4 v-5 M638.8 10.1 v5 M702.1 476.4 v-5 M702.1 10.1 v5 M734.6 476.4 v-5 M734.6 10.1 v5 M113.7 126.6 h10.5 M750.0 126.6 h-10.5 M113.7 243.2 h10.5 M750.0 243.2 h-10.5 M113.7 359.8 h10.5 M750.0 359.8 h-10.5" stroke="#000" stroke-width="1.5" fill="none"/>
<g font-family="'Liberation Sans', sans-serif" font-size="25.0" letter-spacing="0.1" fill="#000">
<text x="98.6" y="18.6" text-anchor="end">5</text>
<text x="98.6" y="135.2" text-anchor="end">4.5</text>
<text x="98.6" y="251.8" text-anchor="end">4</text>
<text x="98.6" y="368.4" text-anchor="end">3.5</text>
<text x="98.6" y="484.9" text-anchor="end">3</text>
<text x="117.2" y="509.8" text-anchor="middle">1e+06</text>
<text x="276.3" y="509.8" text-anchor="middle">1e+07</text>
<text x="435.3" y="509.8" text-anchor="middle">1e+08</text>
<text x="594.4" y="509.8" text-anchor="middle">1e+09</text>
<text x="753.5" y="509.8" text-anchor="middle">1e+10</text>
<text x="431.5" y="547.6" text-anchor="middle">Time (yr)</text>
<text transform="translate(18.6 243.2) rotate(-90)" text-anchor="middle">log(g)</text>
<text x="161.6" y="296.0" fill="#40e0d0">10 M<tspan font-size="20.0" dy="7.7">J</tspan></text>
<text x="257.4" y="296.0" fill="#c080ff">11 M<tspan font-size="20.0" dy="7.7">J</tspan></text>
<text x="353.3" y="296.0" fill="#a52a2a">12 M<tspan font-size="20.0" dy="7.7">J</tspan></text>
<text x="450.2" y="296.0" fill="#000000">13 M<tspan font-size="20.0" dy="7.7">J</tspan></text>
<text x="543.3" y="296.0" fill="#ffa500">14 M<tspan font-size="20.0" dy="7.7">J</tspan></text>
<text x="639.1" y="296.0" fill="#0000ff">15 M<tspan font-size="20.0" dy="7.7">J</tspan></text>
<text x="161.6" y="365.8" fill="#808080">16 M<tspan font-size="20.0" dy="7.7">J</tspan></text>
<text x="257.4" y="365.8" fill="#ff0000">17 M<tspan font-size="20.0" dy="7.7">J</tspan></text>
<text x="353.3" y="365.8" fill="#8060ff">19 M<tspan font-size="20.0" dy="7.7">J</tspan></text>
<text x="450.2" y="365.8" fill="#808000">20 M<tspan font-size="20.0" dy="7.7">J</tspan></text>
<text x="543.3" y="365.8" fill="#9acd32">23 M<tspan font-size="20.0" dy="7.7">J</tspan></text>
</g>
</svg>
</body></html>
